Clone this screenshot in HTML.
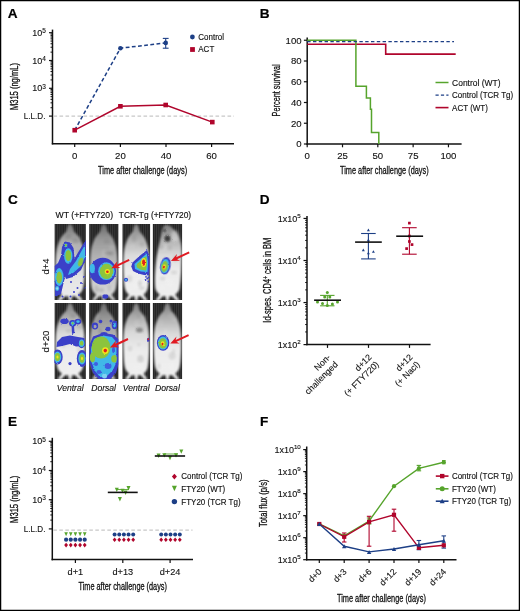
<!DOCTYPE html>
<html><head><meta charset="utf-8"><style>
html,body{margin:0;padding:0;background:#fff;}
body{width:520px;height:611px;overflow:hidden;}
svg{display:block;will-change:transform;}
text{font-family:"Liberation Sans",sans-serif;}
</style></head><body>
<svg width="520" height="611" viewBox="0 0 520 611" font-family="Liberation Sans, sans-serif">
<rect width="520" height="611" fill="#fff"/>
<text x="7.70" y="17.70" font-size="13.6" text-anchor="start" font-weight="bold" font-style="normal" fill="#000" stroke="#000" stroke-width="0.2" >A</text>
<line x1="52.50" y1="29.60" x2="52.50" y2="144.40" stroke="#111" stroke-width="1.5" />
<line x1="51.80" y1="143.70" x2="234.00" y2="143.70" stroke="#111" stroke-width="1.5" />
<line x1="49.00" y1="32.70" x2="52.50" y2="32.70" stroke="#111" stroke-width="1.2" />
<line x1="49.00" y1="60.50" x2="52.50" y2="60.50" stroke="#111" stroke-width="1.2" />
<line x1="49.00" y1="88.30" x2="52.50" y2="88.30" stroke="#111" stroke-width="1.2" />
<line x1="49.00" y1="116.10" x2="52.50" y2="116.10" stroke="#111" stroke-width="1.2" />
<line x1="50.50" y1="107.73" x2="52.50" y2="107.73" stroke="#111" stroke-width="1.0" />
<line x1="50.50" y1="102.84" x2="52.50" y2="102.84" stroke="#111" stroke-width="1.0" />
<line x1="50.50" y1="99.36" x2="52.50" y2="99.36" stroke="#111" stroke-width="1.0" />
<line x1="50.50" y1="96.67" x2="52.50" y2="96.67" stroke="#111" stroke-width="1.0" />
<line x1="50.50" y1="94.47" x2="52.50" y2="94.47" stroke="#111" stroke-width="1.0" />
<line x1="50.50" y1="92.61" x2="52.50" y2="92.61" stroke="#111" stroke-width="1.0" />
<line x1="50.50" y1="90.99" x2="52.50" y2="90.99" stroke="#111" stroke-width="1.0" />
<line x1="50.50" y1="89.57" x2="52.50" y2="89.57" stroke="#111" stroke-width="1.0" />
<line x1="50.50" y1="79.93" x2="52.50" y2="79.93" stroke="#111" stroke-width="1.0" />
<line x1="50.50" y1="75.04" x2="52.50" y2="75.04" stroke="#111" stroke-width="1.0" />
<line x1="50.50" y1="71.56" x2="52.50" y2="71.56" stroke="#111" stroke-width="1.0" />
<line x1="50.50" y1="68.87" x2="52.50" y2="68.87" stroke="#111" stroke-width="1.0" />
<line x1="50.50" y1="66.67" x2="52.50" y2="66.67" stroke="#111" stroke-width="1.0" />
<line x1="50.50" y1="64.81" x2="52.50" y2="64.81" stroke="#111" stroke-width="1.0" />
<line x1="50.50" y1="63.19" x2="52.50" y2="63.19" stroke="#111" stroke-width="1.0" />
<line x1="50.50" y1="61.77" x2="52.50" y2="61.77" stroke="#111" stroke-width="1.0" />
<line x1="50.50" y1="52.13" x2="52.50" y2="52.13" stroke="#111" stroke-width="1.0" />
<line x1="50.50" y1="47.24" x2="52.50" y2="47.24" stroke="#111" stroke-width="1.0" />
<line x1="50.50" y1="43.76" x2="52.50" y2="43.76" stroke="#111" stroke-width="1.0" />
<line x1="50.50" y1="41.07" x2="52.50" y2="41.07" stroke="#111" stroke-width="1.0" />
<line x1="50.50" y1="38.87" x2="52.50" y2="38.87" stroke="#111" stroke-width="1.0" />
<line x1="50.50" y1="37.01" x2="52.50" y2="37.01" stroke="#111" stroke-width="1.0" />
<line x1="50.50" y1="35.39" x2="52.50" y2="35.39" stroke="#111" stroke-width="1.0" />
<line x1="50.50" y1="33.97" x2="52.50" y2="33.97" stroke="#111" stroke-width="1.0" />
<text transform="translate(45.80,35.70) scale(1.0,1)" font-size="9.0" text-anchor="end" fill="#111" stroke="#111" stroke-width="0.12">10<tspan font-size="6.5" dy="-2.6">5</tspan></text>
<text transform="translate(45.80,63.50) scale(1.0,1)" font-size="9.0" text-anchor="end" fill="#111" stroke="#111" stroke-width="0.12">10<tspan font-size="6.5" dy="-2.6">4</tspan></text>
<text transform="translate(45.80,91.30) scale(1.0,1)" font-size="9.0" text-anchor="end" fill="#111" stroke="#111" stroke-width="0.12">10<tspan font-size="6.5" dy="-2.6">3</tspan></text>
<text transform="translate(45.40,119.10) scale(0.9,1)" font-size="9.0" text-anchor="end" font-weight="normal" font-style="normal" fill="#111" stroke="#111" stroke-width="0.12" >L.L.D.</text>
<line x1="53.50" y1="116.10" x2="234.00" y2="116.10" stroke="#c8c8c8" stroke-width="1.2" stroke-dasharray="3.6 2.4"/>
<line x1="74.70" y1="143.70" x2="74.70" y2="147.00" stroke="#111" stroke-width="1.2" />
<text x="74.70" y="158.90" font-size="9.6" text-anchor="middle" font-weight="normal" font-style="normal" fill="#111" stroke="#111" stroke-width="0.12" >0</text>
<line x1="120.40" y1="143.70" x2="120.40" y2="147.00" stroke="#111" stroke-width="1.2" />
<text x="120.40" y="158.90" font-size="9.6" text-anchor="middle" font-weight="normal" font-style="normal" fill="#111" stroke="#111" stroke-width="0.12" >20</text>
<line x1="166.00" y1="143.70" x2="166.00" y2="147.00" stroke="#111" stroke-width="1.2" />
<text x="166.00" y="158.90" font-size="9.6" text-anchor="middle" font-weight="normal" font-style="normal" fill="#111" stroke="#111" stroke-width="0.12" >40</text>
<line x1="211.60" y1="143.70" x2="211.60" y2="147.00" stroke="#111" stroke-width="1.2" />
<text x="211.60" y="158.90" font-size="9.6" text-anchor="middle" font-weight="normal" font-style="normal" fill="#111" stroke="#111" stroke-width="0.12" >60</text>
<text x="142.60" y="173.50" font-size="10.5" text-anchor="middle" textLength="89" lengthAdjust="spacingAndGlyphs" fill="#111" stroke="#111" stroke-width="0.3" >Time after challenge (days)</text>
<text x="0.00" y="0.00" font-size="10.5" text-anchor="middle" textLength="47" lengthAdjust="spacingAndGlyphs" fill="#111" stroke="#111" stroke-width="0.3" transform="translate(17.6,86.6) rotate(-90)">M315 (ng/mL)</text>
<polyline points="74.7,130.2 120.4,48.2 165.7,42.9" fill="none" stroke="#1d3f86" stroke-width="1.5" stroke-dasharray="3.8 2.4"/>
<line x1="165.70" y1="38.40" x2="165.70" y2="48.20" stroke="#1d3f86" stroke-width="1.1" />
<line x1="162.80" y1="38.40" x2="168.60" y2="38.40" stroke="#1d3f86" stroke-width="1.1" />
<line x1="162.80" y1="48.20" x2="168.60" y2="48.20" stroke="#1d3f86" stroke-width="1.1" />
<circle cx="120.40" cy="48.20" r="2.3" fill="#1d3f86"/>
<circle cx="165.70" cy="42.90" r="2.3" fill="#1d3f86"/>
<polyline points="74.7,130.2 120.4,106.3 165.7,105.0 212.3,122.1" fill="none" stroke="#b0052c" stroke-width="1.5"/>
<rect x="72.40" y="127.90" width="4.6" height="4.6" fill="#b0052c"/>
<rect x="118.10" y="104.00" width="4.6" height="4.6" fill="#b0052c"/>
<rect x="163.40" y="102.70" width="4.6" height="4.6" fill="#b0052c"/>
<rect x="210.00" y="119.80" width="4.6" height="4.6" fill="#b0052c"/>
<circle cx="192.40" cy="37.00" r="2.4" fill="#1d3f86"/>
<text transform="translate(198.30,40.00) scale(0.86,1)" font-size="9.3" text-anchor="start" font-weight="normal" font-style="normal" fill="#111" stroke="#111" stroke-width="0.15" >Control</text>
<rect x="190.10" y="47.10" width="4.8" height="4.8" fill="#b0052c"/>
<text transform="translate(198.30,51.80) scale(0.86,1)" font-size="9.3" text-anchor="start" font-weight="normal" font-style="normal" fill="#111" stroke="#111" stroke-width="0.15" >ACT</text>
<text x="259.80" y="17.70" font-size="13.6" text-anchor="start" font-weight="bold" font-style="normal" fill="#000" stroke="#000" stroke-width="0.2" >B</text>
<line x1="307.20" y1="37.50" x2="307.20" y2="144.70" stroke="#111" stroke-width="1.5" />
<line x1="306.50" y1="144.00" x2="461.60" y2="144.00" stroke="#111" stroke-width="1.5" />
<line x1="303.90" y1="144.00" x2="307.20" y2="144.00" stroke="#111" stroke-width="1.2" />
<text x="301.60" y="147.40" font-size="9.6" text-anchor="end" font-weight="normal" font-style="normal" fill="#111" stroke="#111" stroke-width="0.12" >0</text>
<line x1="303.90" y1="123.25" x2="307.20" y2="123.25" stroke="#111" stroke-width="1.2" />
<text x="301.60" y="126.65" font-size="9.6" text-anchor="end" font-weight="normal" font-style="normal" fill="#111" stroke="#111" stroke-width="0.12" >20</text>
<line x1="303.90" y1="102.50" x2="307.20" y2="102.50" stroke="#111" stroke-width="1.2" />
<text x="301.60" y="105.90" font-size="9.6" text-anchor="end" font-weight="normal" font-style="normal" fill="#111" stroke="#111" stroke-width="0.12" >40</text>
<line x1="303.90" y1="81.75" x2="307.20" y2="81.75" stroke="#111" stroke-width="1.2" />
<text x="301.60" y="85.15" font-size="9.6" text-anchor="end" font-weight="normal" font-style="normal" fill="#111" stroke="#111" stroke-width="0.12" >60</text>
<line x1="303.90" y1="61.00" x2="307.20" y2="61.00" stroke="#111" stroke-width="1.2" />
<text x="301.60" y="64.40" font-size="9.6" text-anchor="end" font-weight="normal" font-style="normal" fill="#111" stroke="#111" stroke-width="0.12" >80</text>
<line x1="303.90" y1="40.25" x2="307.20" y2="40.25" stroke="#111" stroke-width="1.2" />
<text x="301.60" y="43.65" font-size="9.6" text-anchor="end" font-weight="normal" font-style="normal" fill="#111" stroke="#111" stroke-width="0.12" >100</text>
<line x1="307.20" y1="144.00" x2="307.20" y2="147.30" stroke="#111" stroke-width="1.2" />
<text x="307.20" y="158.90" font-size="9.6" text-anchor="middle" font-weight="normal" font-style="normal" fill="#111" stroke="#111" stroke-width="0.12" >0</text>
<line x1="342.51" y1="144.00" x2="342.51" y2="147.30" stroke="#111" stroke-width="1.2" />
<text x="342.51" y="158.90" font-size="9.6" text-anchor="middle" font-weight="normal" font-style="normal" fill="#111" stroke="#111" stroke-width="0.12" >25</text>
<line x1="377.82" y1="144.00" x2="377.82" y2="147.30" stroke="#111" stroke-width="1.2" />
<text x="377.82" y="158.90" font-size="9.6" text-anchor="middle" font-weight="normal" font-style="normal" fill="#111" stroke="#111" stroke-width="0.12" >50</text>
<line x1="413.14" y1="144.00" x2="413.14" y2="147.30" stroke="#111" stroke-width="1.2" />
<text x="413.14" y="158.90" font-size="9.6" text-anchor="middle" font-weight="normal" font-style="normal" fill="#111" stroke="#111" stroke-width="0.12" >75</text>
<line x1="448.45" y1="144.00" x2="448.45" y2="147.30" stroke="#111" stroke-width="1.2" />
<text x="448.45" y="158.90" font-size="9.6" text-anchor="middle" font-weight="normal" font-style="normal" fill="#111" stroke="#111" stroke-width="0.12" >100</text>
<text x="384.30" y="173.50" font-size="10.5" text-anchor="middle" textLength="88.6" lengthAdjust="spacingAndGlyphs" fill="#111" stroke="#111" stroke-width="0.3" >Time after challenge (days)</text>
<text x="0.00" y="0.00" font-size="10.5" text-anchor="middle" textLength="52" lengthAdjust="spacingAndGlyphs" fill="#111" stroke="#111" stroke-width="0.3" transform="translate(279.6,90.4) rotate(-90)">Percent survival</text>
<path d="M307.2,44.3 H385.7 V54.1 H455.7" fill="none" stroke="#b0052c" stroke-width="1.6"/>
<path d="M307.2,40.3 H355.9 V86.3 H366.4 V97.9 H370.4 V109.3 H371.5 V132.4 H378.8 V144" fill="none" stroke="#56a42c" stroke-width="1.5"/>
<path d="M307.2,41.6 H454" fill="none" stroke="#1d3f86" stroke-width="1.4" stroke-dasharray="3.4 2.4"/>
<line x1="435.50" y1="82.50" x2="448.50" y2="82.50" stroke="#56a42c" stroke-width="1.5" />
<line x1="435.50" y1="95.10" x2="448.50" y2="95.10" stroke="#1d3f86" stroke-width="1.4" stroke-dasharray="3.2 2.2"/>
<line x1="435.50" y1="107.60" x2="448.50" y2="107.60" stroke="#b0052c" stroke-width="1.6" />
<text transform="translate(452.10,85.60) scale(0.9116,1)" font-size="9.3" text-anchor="start" font-weight="normal" font-style="normal" fill="#111" stroke="#111" stroke-width="0.15" >Control (WT)</text>
<text transform="translate(452.10,98.20) scale(0.86,1)" font-size="9.3" text-anchor="start" font-weight="normal" font-style="normal" fill="#111" stroke="#111" stroke-width="0.15" >Control (TCR Tg)</text>
<text transform="translate(452.10,110.70) scale(0.86,1)" font-size="9.3" text-anchor="start" font-weight="normal" font-style="normal" fill="#111" stroke="#111" stroke-width="0.15" >ACT (WT)</text>
<text x="7.90" y="203.80" font-size="13.6" text-anchor="start" font-weight="bold" font-style="normal" fill="#000" stroke="#000" stroke-width="0.2" >C</text>
<text x="55.50" y="218.30" font-size="8.7" text-anchor="start" font-weight="normal" font-style="normal" fill="#111" stroke="#111" stroke-width="0.15" >WT (+FTY720)</text>
<text x="118.80" y="218.30" font-size="8.4" text-anchor="start" font-weight="normal" font-style="normal" fill="#111" stroke="#111" stroke-width="0.15" >TCR-Tg (+FTY720)</text>
<text font-size="8.7" fill="#111" stroke="#111" stroke-width="0.12" transform="translate(49.0,266.4) rotate(-90)" text-anchor="middle" textLength="16.0" lengthAdjust="spacingAndGlyphs">d+4</text>
<text font-size="8.7" fill="#111" stroke="#111" stroke-width="0.12" transform="translate(49.0,341.5) rotate(-90)" text-anchor="middle" textLength="21.8" lengthAdjust="spacingAndGlyphs">d+20</text>
<text x="70.20" y="390.60" font-size="8.6" text-anchor="middle" font-weight="normal" font-style="italic" fill="#111" stroke="#111" stroke-width="0.12" >Ventral</text>
<text x="103.60" y="390.60" font-size="8.6" text-anchor="middle" font-weight="normal" font-style="italic" fill="#111" stroke="#111" stroke-width="0.12" >Dorsal</text>
<text x="136.30" y="390.60" font-size="8.6" text-anchor="middle" font-weight="normal" font-style="italic" fill="#111" stroke="#111" stroke-width="0.12" >Ventral</text>
<text x="167.40" y="390.60" font-size="8.6" text-anchor="middle" font-weight="normal" font-style="italic" fill="#111" stroke="#111" stroke-width="0.12" >Dorsal</text>
<defs>
<filter id="bl1" x="-30%" y="-30%" width="160%" height="160%"><feGaussianBlur stdDeviation="0.9"/></filter>
<filter id="bl2" x="-30%" y="-30%" width="160%" height="160%"><feGaussianBlur stdDeviation="0.45"/></filter>
<filter id="rough" x="-10%" y="-10%" width="120%" height="120%"><feTurbulence type="fractalNoise" baseFrequency="0.9" numOctaves="2" seed="5" result="n"/><feDisplacementMap in="SourceGraphic" in2="n" scale="2.0" xChannelSelector="R" yChannelSelector="G"/></filter>
<filter id="bl3" x="-30%" y="-30%" width="160%" height="160%"><feGaussianBlur stdDeviation="1.6"/></filter>
<pattern id="stripes" width="2.2" height="10" patternUnits="userSpaceOnUse"><rect width="2.2" height="10" fill="#232323"/><rect x="0" width="0.9" height="10" fill="#3a3a3a"/></pattern>
<linearGradient id="bodyV" x1="0" y1="0" x2="0" y2="1"><stop offset="0" stop-color="#747474"/><stop offset="0.2" stop-color="#a4a4a4"/><stop offset="0.45" stop-color="#cdcdcd"/><stop offset="0.7" stop-color="#e4e4e4"/><stop offset="1" stop-color="#ececec"/></linearGradient>
<linearGradient id="bodyD" x1="0" y1="0" x2="0" y2="1"><stop offset="0" stop-color="#6a6a6a"/><stop offset="0.2" stop-color="#989898"/><stop offset="0.45" stop-color="#b4b4b4"/><stop offset="0.7" stop-color="#c8c8c8"/><stop offset="1" stop-color="#d8d8d8"/></linearGradient>
<linearGradient id="bodyW" x1="0" y1="0" x2="0" y2="1"><stop offset="0" stop-color="#7c7c7c"/><stop offset="0.2" stop-color="#b0b0b0"/><stop offset="0.4" stop-color="#dadada"/><stop offset="0.6" stop-color="#ebebeb"/><stop offset="1" stop-color="#f0f0f0"/></linearGradient>
<clipPath id="clip1"><rect x="54.4" y="224.0" width="31.50" height="76.00"/></clipPath>
<clipPath id="clip2"><rect x="89.1" y="224.0" width="29.50" height="76.00"/></clipPath>
<clipPath id="clip3"><rect x="122.3" y="224.0" width="28.00" height="76.00"/></clipPath>
<clipPath id="clip4"><rect x="152.6" y="224.0" width="29.70" height="76.00"/></clipPath>
<clipPath id="clip5"><rect x="54.4" y="303.0" width="31.50" height="76.00"/></clipPath>
<clipPath id="clip6"><rect x="89.1" y="303.0" width="29.50" height="76.00"/></clipPath>
<clipPath id="clip7"><rect x="122.3" y="303.0" width="28.00" height="76.00"/></clipPath>
<clipPath id="clip8"><rect x="152.6" y="303.0" width="29.70" height="76.00"/></clipPath>
</defs>
<g clip-path="url(#clip1)">
<rect x="54.4" y="224.0" width="31.50" height="76.00" fill="url(#stripes)"/>
<path d="M70.15,224.00 C72.04,224.00 73.30,227.80 73.93,231.60 C76.45,233.88 79.60,236.92 81.49,242.24 C84.33,248.32 84.96,258.20 84.64,269.60 C84.33,278.72 84.01,284.80 82.75,289.36 C81.49,292.40 79.60,293.92 78.34,294.68 L80.86,297.72 L82.75,300.76 L79.60,300.76 L75.19,296.20 L72.04,296.20 L71.41,300.76 L68.89,300.76 L68.26,296.20 L65.11,296.20 L60.70,300.76 L57.55,300.76 L59.44,297.72 L61.96,294.68 C60.70,293.92 58.81,292.40 57.55,289.36 C56.29,284.80 55.98,278.72 55.66,269.60 C55.34,258.20 55.98,248.32 58.81,242.24 C60.70,236.92 63.85,233.88 66.37,231.60 C67.00,227.80 68.26,224.00 70.15,224.00 Z" fill="url(#bodyV)" filter="url(#bl1)"/>
<ellipse cx="71.50" cy="259.85" rx="3.13" ry="3.56" fill="#fff" opacity="0.05" filter="url(#bl1)"/>
<ellipse cx="73.05" cy="244.53" rx="2.00" ry="3.88" fill="#fff" opacity="0.06" filter="url(#bl1)"/>
<ellipse cx="79.53" cy="237.94" rx="2.26" ry="2.21" fill="#fff" opacity="0.08" filter="url(#bl1)"/>
<ellipse cx="73.46" cy="261.44" rx="1.77" ry="3.42" fill="#fff" opacity="0.08" filter="url(#bl1)"/>
<ellipse cx="79.27" cy="290.66" rx="1.51" ry="1.83" fill="#fff" opacity="0.04" filter="url(#bl1)"/>
<ellipse cx="78.48" cy="252.66" rx="2.13" ry="2.87" fill="#000" opacity="0.09" filter="url(#bl1)"/>
<ellipse cx="68.94" cy="239.10" rx="1.81" ry="2.06" fill="#fff" opacity="0.09" filter="url(#bl1)"/>
<ellipse cx="68.50" cy="237.50" rx="2.82" ry="2.83" fill="#000" opacity="0.09" filter="url(#bl1)"/>
<ellipse cx="76.86" cy="243.93" rx="2.70" ry="1.78" fill="#fff" opacity="0.06" filter="url(#bl1)"/>
<ellipse cx="75.36" cy="240.91" rx="3.40" ry="2.58" fill="#000" opacity="0.09" filter="url(#bl1)"/>
<ellipse cx="68.53" cy="249.39" rx="1.86" ry="1.80" fill="#000" opacity="0.08" filter="url(#bl1)"/>
<ellipse cx="69.31" cy="244.80" rx="3.06" ry="2.70" fill="#fff" opacity="0.09" filter="url(#bl1)"/>
<ellipse cx="67.27" cy="260.18" rx="2.16" ry="2.30" fill="#000" opacity="0.08" filter="url(#bl1)"/>
<ellipse cx="62.21" cy="260.94" rx="3.24" ry="3.18" fill="#fff" opacity="0.06" filter="url(#bl1)"/>
<g filter="url(#rough)">
<polygon points="62.00,247.00 65.00,241.50 70.00,242.50 73.50,248.00 74.50,258.00 72.00,267.00 67.00,272.00 64.00,281.00 61.00,294.00 55.00,297.00 54.50,266.00 58.00,263.00 61.00,256.00" fill="#3a3fc8" filter="url(#bl2)"/>
<polygon points="86.50,239.00 86.50,258.00 81.00,270.00 73.00,277.00 66.00,279.00 64.00,273.00 70.00,265.00 76.00,256.00 82.00,246.00" fill="#3a3fc8" filter="url(#bl2)"/>
<ellipse cx="68.30" cy="256.00" rx="4.2" ry="7.8" fill="#3fb8e8" filter="url(#bl2)" opacity="1.0"/>
<ellipse cx="59.20" cy="277.00" rx="4.3" ry="9.0" fill="#3fb8e8" filter="url(#bl2)" opacity="1.0"/>
<polygon points="85.00,245.00 85.00,257.00 80.00,267.00 73.00,273.00 68.00,275.00 70.00,269.00 76.00,261.00 82.00,250.00" fill="#3fb8e8" filter="url(#bl2)"/>
<ellipse cx="68.30" cy="255.50" rx="2.9" ry="5.5" fill="#8cc43c" filter="url(#bl2)" opacity="1.0"/>
<ellipse cx="59.20" cy="277.50" rx="2.8" ry="6.0" fill="#8cc43c" filter="url(#bl2)" opacity="1.0"/>
<ellipse cx="80.60" cy="262.00" rx="2.2" ry="4.6" fill="#8cc43c" filter="url(#bl2)" transform="rotate(20 80.60 262.00)" opacity="1.0"/>
<ellipse cx="65.80" cy="245.30" rx="2.5" ry="2.6" fill="#3a3fc8" filter="url(#bl2)" opacity="1.0"/>
<ellipse cx="65.80" cy="245.30" rx="1.7999999999999998" ry="1.8719999999999999" fill="#3fb8e8" filter="url(#bl2)" opacity="1.0"/>
<ellipse cx="65.80" cy="245.30" rx="1.2" ry="1.248" fill="#8cc43c" filter="url(#bl2)" opacity="1.0"/>
<ellipse cx="57.20" cy="288.50" rx="2.0" ry="2.4" fill="#3fb8e8" filter="url(#bl2)" opacity="1.0"/>
<ellipse cx="57.20" cy="288.50" rx="1.0" ry="1.2" fill="#9ad6f0" filter="url(#bl2)" opacity="1.0"/>
<ellipse cx="74.00" cy="292.00" rx="1.0" ry="1.0" fill="#3a3fc8" filter="url(#bl2)" opacity="1.0"/>
<ellipse cx="70.50" cy="296.50" rx="1.0" ry="1.0" fill="#3a3fc8" filter="url(#bl2)" opacity="1.0"/>
<ellipse cx="81.00" cy="283.00" rx="1.0" ry="1.0" fill="#3a3fc8" filter="url(#bl2)" opacity="1.0"/>
<ellipse cx="77.50" cy="288.00" rx="1.0" ry="1.0" fill="#3a3fc8" filter="url(#bl2)" opacity="1.0"/>
<ellipse cx="84.00" cy="277.00" rx="1.0" ry="1.0" fill="#3a3fc8" filter="url(#bl2)" opacity="1.0"/>
<ellipse cx="62.50" cy="296.50" rx="1.0" ry="1.0" fill="#3a3fc8" filter="url(#bl2)" opacity="1.0"/>
<ellipse cx="71.00" cy="282.00" rx="1.0" ry="1.0" fill="#3a3fc8" filter="url(#bl2)" opacity="1.0"/>
<ellipse cx="79.00" cy="295.00" rx="1.0" ry="1.0" fill="#3a3fc8" filter="url(#bl2)" opacity="1.0"/>
<ellipse cx="84.50" cy="288.00" rx="1.0" ry="1.0" fill="#3a3fc8" filter="url(#bl2)" opacity="1.0"/>
</g>
</g>
<g clip-path="url(#clip2)">
<rect x="89.1" y="224.0" width="29.50" height="76.00" fill="url(#stripes)"/>
<path d="M103.85,224.00 C105.62,224.00 106.80,227.80 107.39,231.60 C109.75,233.88 112.70,236.92 114.47,242.24 C117.12,248.32 117.71,258.20 117.42,269.60 C117.12,278.72 116.83,284.80 115.65,289.36 C114.47,292.40 112.70,293.92 111.52,294.68 L113.88,297.72 L115.65,300.76 L112.70,300.76 L108.57,296.20 L105.62,296.20 L105.03,300.76 L102.67,300.76 L102.08,296.20 L99.13,296.20 L95.00,300.76 L92.05,300.76 L93.82,297.72 L96.18,294.68 C95.00,293.92 93.23,292.40 92.05,289.36 C90.87,284.80 90.57,278.72 90.28,269.60 C89.98,258.20 90.57,248.32 93.23,242.24 C95.00,236.92 97.95,233.88 100.31,231.60 C100.90,227.80 102.08,224.00 103.85,224.00 Z" fill="url(#bodyD)" filter="url(#bl1)"/>
<ellipse cx="104.24" cy="281.38" rx="3.03" ry="3.26" fill="#fff" opacity="0.06" filter="url(#bl1)"/>
<ellipse cx="106.71" cy="241.68" rx="2.99" ry="2.13" fill="#000" opacity="0.06" filter="url(#bl1)"/>
<ellipse cx="103.88" cy="253.49" rx="2.30" ry="4.00" fill="#fff" opacity="0.10" filter="url(#bl1)"/>
<ellipse cx="96.10" cy="281.72" rx="2.91" ry="2.90" fill="#fff" opacity="0.05" filter="url(#bl1)"/>
<ellipse cx="111.91" cy="247.37" rx="2.78" ry="2.27" fill="#fff" opacity="0.09" filter="url(#bl1)"/>
<ellipse cx="96.45" cy="288.97" rx="1.78" ry="3.53" fill="#000" opacity="0.10" filter="url(#bl1)"/>
<ellipse cx="109.40" cy="287.84" rx="1.60" ry="3.38" fill="#000" opacity="0.06" filter="url(#bl1)"/>
<ellipse cx="101.28" cy="290.09" rx="3.24" ry="2.10" fill="#000" opacity="0.09" filter="url(#bl1)"/>
<ellipse cx="104.86" cy="289.97" rx="2.03" ry="3.47" fill="#fff" opacity="0.06" filter="url(#bl1)"/>
<ellipse cx="98.41" cy="269.82" rx="1.76" ry="3.15" fill="#fff" opacity="0.07" filter="url(#bl1)"/>
<ellipse cx="111.22" cy="253.58" rx="2.66" ry="2.18" fill="#000" opacity="0.09" filter="url(#bl1)"/>
<ellipse cx="95.17" cy="278.34" rx="2.05" ry="3.08" fill="#000" opacity="0.07" filter="url(#bl1)"/>
<ellipse cx="107.90" cy="253.06" rx="3.32" ry="1.55" fill="#000" opacity="0.10" filter="url(#bl1)"/>
<ellipse cx="104.99" cy="274.50" rx="3.42" ry="2.98" fill="#000" opacity="0.08" filter="url(#bl1)"/>
<g filter="url(#rough)">
<ellipse cx="102.80" cy="271.20" rx="13.2" ry="13.4" fill="#3a3fc8" filter="url(#bl2)" opacity="1.0"/>
<ellipse cx="92.30" cy="268.50" rx="2.6" ry="4.8" fill="#3fb8e8" filter="url(#bl2)" opacity="1.0"/>
<ellipse cx="106.40" cy="271.20" rx="8.2" ry="8.9" fill="#3fb8e8" filter="url(#bl2)" opacity="1.0"/>
<ellipse cx="106.50" cy="271.30" rx="6.8" ry="7.6" fill="#8cc43c" filter="url(#bl2)" opacity="1.0"/>
<ellipse cx="107.40" cy="271.60" rx="2.6" ry="2.6" fill="#f2e41c" filter="url(#bl2)" opacity="1.0"/>
<ellipse cx="107.40" cy="271.70" rx="1.3" ry="1.3" fill="#e0201c" filter="url(#bl2)" opacity="1.0"/>
<ellipse cx="105.30" cy="296.50" rx="3.0" ry="2.2" fill="#3a3fc8" filter="url(#bl2)" opacity="1.0"/>
</g>
</g>
<g clip-path="url(#clip3)">
<rect x="122.3" y="224.0" width="28.00" height="76.00" fill="url(#stripes)"/>
<path d="M136.30,224.00 C137.98,224.00 139.10,227.80 139.66,231.60 C141.90,233.88 144.70,236.92 146.38,242.24 C148.90,248.32 149.46,258.20 149.18,269.60 C148.90,278.72 148.62,284.80 147.50,289.36 C146.38,292.40 144.70,293.92 143.58,294.68 L145.82,297.72 L147.50,300.76 L144.70,300.76 L140.78,296.20 L137.98,296.20 L137.42,300.76 L135.18,300.76 L134.62,296.20 L131.82,296.20 L127.90,300.76 L125.10,300.76 L126.78,297.72 L129.02,294.68 C127.90,293.92 126.22,292.40 125.10,289.36 C123.98,284.80 123.70,278.72 123.42,269.60 C123.14,258.20 123.70,248.32 126.22,242.24 C127.90,236.92 130.70,233.88 132.94,231.60 C133.50,227.80 134.62,224.00 136.30,224.00 Z" fill="url(#bodyW)" filter="url(#bl1)"/>
<ellipse cx="139.87" cy="283.27" rx="1.89" ry="3.18" fill="#000" opacity="0.10" filter="url(#bl1)"/>
<ellipse cx="129.44" cy="278.59" rx="2.95" ry="3.41" fill="#000" opacity="0.08" filter="url(#bl1)"/>
<ellipse cx="135.32" cy="284.75" rx="2.53" ry="3.90" fill="#fff" opacity="0.05" filter="url(#bl1)"/>
<ellipse cx="140.32" cy="260.72" rx="1.67" ry="3.40" fill="#000" opacity="0.10" filter="url(#bl1)"/>
<ellipse cx="142.07" cy="244.39" rx="2.58" ry="2.42" fill="#000" opacity="0.06" filter="url(#bl1)"/>
<ellipse cx="142.91" cy="288.10" rx="1.64" ry="1.74" fill="#000" opacity="0.09" filter="url(#bl1)"/>
<ellipse cx="139.07" cy="280.95" rx="3.22" ry="2.17" fill="#fff" opacity="0.10" filter="url(#bl1)"/>
<ellipse cx="140.38" cy="288.11" rx="1.81" ry="1.86" fill="#000" opacity="0.07" filter="url(#bl1)"/>
<ellipse cx="135.96" cy="273.61" rx="2.51" ry="3.99" fill="#fff" opacity="0.05" filter="url(#bl1)"/>
<ellipse cx="140.75" cy="265.73" rx="2.02" ry="3.11" fill="#000" opacity="0.08" filter="url(#bl1)"/>
<ellipse cx="138.80" cy="257.70" rx="2.44" ry="3.58" fill="#fff" opacity="0.06" filter="url(#bl1)"/>
<ellipse cx="132.11" cy="245.97" rx="3.25" ry="2.12" fill="#fff" opacity="0.07" filter="url(#bl1)"/>
<ellipse cx="134.14" cy="238.69" rx="2.40" ry="3.41" fill="#000" opacity="0.06" filter="url(#bl1)"/>
<ellipse cx="128.53" cy="291.79" rx="2.58" ry="2.94" fill="#fff" opacity="0.09" filter="url(#bl1)"/>
<g filter="url(#rough)">
<polygon points="132.50,262.50 139.50,256.00 147.00,250.00 149.50,256.00 149.50,268.00 149.00,275.50 144.00,275.00 138.00,273.50 133.00,271.00 131.30,266.50" fill="#3a3fc8" filter="url(#bl2)"/>
<polygon points="134.50,264.00 141.00,258.50 146.80,253.50 148.00,262.00 147.50,272.00 141.00,271.50 135.00,269.00" fill="#3fb8e8" filter="url(#bl2)"/>
<polygon points="136.30,264.50 142.00,260.00 146.50,256.00 147.00,265.00 146.00,270.50 141.00,269.80 137.00,267.50" fill="#8cc43c" filter="url(#bl2)"/>
<ellipse cx="143.60" cy="262.60" rx="2.5" ry="4.6" fill="#f2e41c" filter="url(#bl2)" opacity="1.0"/>
<ellipse cx="143.60" cy="262.60" rx="1.5" ry="3.2" fill="#e0201c" filter="url(#bl2)" opacity="1.0"/>
<ellipse cx="147.20" cy="278.50" rx="0.9" ry="0.9" fill="#3a3fc8" filter="url(#bl2)" opacity="1.0"/>
<ellipse cx="148.30" cy="281.50" rx="0.9" ry="0.9" fill="#3a3fc8" filter="url(#bl2)" opacity="1.0"/>
<ellipse cx="145.50" cy="280.00" rx="0.9" ry="0.9" fill="#3a3fc8" filter="url(#bl2)" opacity="1.0"/>
<ellipse cx="146.00" cy="276.80" rx="0.9" ry="0.9" fill="#3a3fc8" filter="url(#bl2)" opacity="1.0"/>
<ellipse cx="148.60" cy="277.50" rx="0.9" ry="0.9" fill="#3a3fc8" filter="url(#bl2)" opacity="1.0"/>
<ellipse cx="126.00" cy="279.80" rx="2.1" ry="2.0" fill="#3a3fc8" filter="url(#bl2)" opacity="1.0"/>
<ellipse cx="126.00" cy="279.80" rx="1.1550000000000002" ry="1.1" fill="#3fb8e8" filter="url(#bl2)" opacity="1.0"/>
</g>
</g>
<g clip-path="url(#clip4)">
<rect x="152.6" y="224.0" width="29.70" height="76.00" fill="url(#stripes)"/>
<path d="M164.48,225.52 C167.45,223.24 171.01,226.28 173.98,230.08 C178.14,233.88 182.00,240.72 181.71,252.88 C181.41,265.80 181.11,278.72 179.33,289.36 C178.14,292.40 176.36,293.92 175.17,294.68 L177.55,297.72 L179.33,300.76 L176.36,300.76 L172.20,296.20 L169.23,296.20 L168.64,300.76 L166.26,300.76 L165.67,296.20 L162.70,296.20 L158.54,300.76 L155.57,300.76 L157.35,297.72 L159.73,294.68 C158.54,293.92 156.76,292.40 155.57,289.36 C154.38,283.28 154.98,271.12 156.16,260.48 C157.35,251.36 159.13,243.76 160.92,236.16 C162.10,230.08 162.99,226.28 164.48,225.52 Z" fill="url(#bodyW)" filter="url(#bl1)"/>
<ellipse cx="158.76" cy="241.81" rx="1.78" ry="1.78" fill="#000" opacity="0.08" filter="url(#bl1)"/>
<ellipse cx="162.67" cy="278.58" rx="2.82" ry="1.84" fill="#000" opacity="0.08" filter="url(#bl1)"/>
<ellipse cx="168.09" cy="260.92" rx="1.69" ry="1.55" fill="#000" opacity="0.10" filter="url(#bl1)"/>
<ellipse cx="175.29" cy="258.37" rx="2.23" ry="3.89" fill="#000" opacity="0.06" filter="url(#bl1)"/>
<ellipse cx="162.29" cy="247.76" rx="3.41" ry="3.60" fill="#fff" opacity="0.07" filter="url(#bl1)"/>
<ellipse cx="164.88" cy="247.02" rx="1.56" ry="3.34" fill="#fff" opacity="0.10" filter="url(#bl1)"/>
<ellipse cx="174.01" cy="272.52" rx="2.96" ry="1.98" fill="#000" opacity="0.09" filter="url(#bl1)"/>
<ellipse cx="169.96" cy="247.89" rx="2.17" ry="2.49" fill="#000" opacity="0.06" filter="url(#bl1)"/>
<ellipse cx="170.07" cy="283.06" rx="3.49" ry="3.47" fill="#fff" opacity="0.10" filter="url(#bl1)"/>
<ellipse cx="164.00" cy="245.45" rx="2.85" ry="1.73" fill="#fff" opacity="0.07" filter="url(#bl1)"/>
<ellipse cx="161.98" cy="287.90" rx="1.69" ry="2.50" fill="#fff" opacity="0.08" filter="url(#bl1)"/>
<ellipse cx="174.76" cy="272.41" rx="2.41" ry="3.50" fill="#fff" opacity="0.05" filter="url(#bl1)"/>
<ellipse cx="166.46" cy="280.37" rx="1.70" ry="3.96" fill="#fff" opacity="0.05" filter="url(#bl1)"/>
<ellipse cx="160.67" cy="246.46" rx="3.21" ry="2.69" fill="#000" opacity="0.08" filter="url(#bl1)"/>
<g filter="url(#rough)">
<ellipse cx="167.50" cy="238.50" rx="3.0" ry="3.2" fill="#3a3a3a" filter="url(#bl1)" opacity="1.0"/>
<ellipse cx="164.50" cy="230.50" rx="1.4" ry="1.6" fill="#3a3a3a" filter="url(#bl1)" opacity="1.0"/>
<ellipse cx="175.00" cy="236.00" rx="4.0" ry="6.0" fill="#fff" filter="url(#bl3)" opacity="0.35"/>
<ellipse cx="165.40" cy="265.80" rx="5.2" ry="8.8" fill="#3a3fc8" filter="url(#bl2)" transform="rotate(10 165.40 265.80)" opacity="1.0"/>
<ellipse cx="165.00" cy="266.15" rx="4.16" ry="7.040000000000001" fill="#3fb8e8" filter="url(#bl2)" transform="rotate(10 165.00 266.15)" opacity="1.0"/>
<ellipse cx="164.60" cy="266.50" rx="3.224" ry="5.456" fill="#8cc43c" filter="url(#bl2)" transform="rotate(10 164.60 266.50)" opacity="1.0"/>
<ellipse cx="164.20" cy="266.85" rx="1.56" ry="2.64" fill="#f2e41c" filter="url(#bl2)" transform="rotate(10 164.20 266.85)" opacity="1.0"/>
<ellipse cx="163.80" cy="267.20" rx="0.8320000000000001" ry="1.4080000000000001" fill="#e0201c" filter="url(#bl2)" transform="rotate(10 163.80 267.20)" opacity="1.0"/>
</g>
</g>
<g clip-path="url(#clip5)">
<rect x="54.4" y="303.0" width="31.50" height="76.00" fill="url(#stripes)"/>
<path d="M70.15,303.00 C72.04,303.00 73.30,306.80 73.93,310.60 C76.45,312.88 79.60,315.92 81.49,321.24 C84.33,327.32 84.96,337.20 84.64,348.60 C84.33,357.72 84.01,363.80 82.75,368.36 C81.49,371.40 79.60,372.92 78.34,373.68 L80.86,376.72 L82.75,379.76 L79.60,379.76 L75.19,375.20 L72.04,375.20 L71.41,379.76 L68.89,379.76 L68.26,375.20 L65.11,375.20 L60.70,379.76 L57.55,379.76 L59.44,376.72 L61.96,373.68 C60.70,372.92 58.81,371.40 57.55,368.36 C56.29,363.80 55.98,357.72 55.66,348.60 C55.34,337.20 55.98,327.32 58.81,321.24 C60.70,315.92 63.85,312.88 66.37,310.60 C67.00,306.80 68.26,303.00 70.15,303.00 Z" fill="url(#bodyW)" filter="url(#bl1)"/>
<ellipse cx="72.79" cy="338.85" rx="2.90" ry="2.44" fill="#fff" opacity="0.04" filter="url(#bl1)"/>
<ellipse cx="72.19" cy="324.10" rx="2.16" ry="3.32" fill="#000" opacity="0.06" filter="url(#bl1)"/>
<ellipse cx="69.64" cy="369.28" rx="2.73" ry="2.82" fill="#fff" opacity="0.05" filter="url(#bl1)"/>
<ellipse cx="63.36" cy="344.43" rx="2.57" ry="3.22" fill="#000" opacity="0.06" filter="url(#bl1)"/>
<ellipse cx="78.83" cy="349.44" rx="2.00" ry="3.37" fill="#000" opacity="0.07" filter="url(#bl1)"/>
<ellipse cx="77.59" cy="319.35" rx="1.87" ry="2.63" fill="#fff" opacity="0.06" filter="url(#bl1)"/>
<ellipse cx="68.61" cy="330.79" rx="2.88" ry="1.91" fill="#000" opacity="0.07" filter="url(#bl1)"/>
<ellipse cx="67.75" cy="328.03" rx="2.98" ry="1.57" fill="#fff" opacity="0.05" filter="url(#bl1)"/>
<ellipse cx="76.87" cy="338.78" rx="3.19" ry="1.58" fill="#fff" opacity="0.09" filter="url(#bl1)"/>
<ellipse cx="74.85" cy="344.35" rx="2.19" ry="3.76" fill="#fff" opacity="0.07" filter="url(#bl1)"/>
<ellipse cx="79.50" cy="326.99" rx="2.82" ry="1.90" fill="#000" opacity="0.07" filter="url(#bl1)"/>
<ellipse cx="71.77" cy="345.35" rx="1.78" ry="2.80" fill="#fff" opacity="0.05" filter="url(#bl1)"/>
<ellipse cx="74.92" cy="347.85" rx="1.57" ry="3.22" fill="#fff" opacity="0.06" filter="url(#bl1)"/>
<ellipse cx="72.93" cy="315.96" rx="2.83" ry="2.02" fill="#000" opacity="0.08" filter="url(#bl1)"/>
<g filter="url(#rough)">
<ellipse cx="64.50" cy="321.30" rx="4.2" ry="2.8" fill="#3a3fc8" filter="url(#bl2)" opacity="1.0"/>
<ellipse cx="72.70" cy="323.30" rx="3.6" ry="3.2" fill="#3a3fc8" filter="url(#bl2)" opacity="1.0"/>
<ellipse cx="72.70" cy="323.30" rx="1.9800000000000002" ry="1.7600000000000002" fill="#3fb8e8" filter="url(#bl2)" opacity="1.0"/>
<ellipse cx="72.70" cy="323.30" rx="1.08" ry="0.96" fill="#8cc43c" filter="url(#bl2)" opacity="1.0"/>
<ellipse cx="78.00" cy="321.60" rx="3.3" ry="2.8" fill="#3a3fc8" filter="url(#bl2)" opacity="1.0"/>
<ellipse cx="78.00" cy="321.60" rx="1.65" ry="1.4" fill="#3fb8e8" filter="url(#bl2)" opacity="1.0"/>
<polygon points="71.50,325.00 74.00,325.00 74.50,333.00 72.00,334.00" fill="#3a3fc8" filter="url(#bl2)"/>
<polygon points="57.00,342.00 62.00,337.00 70.00,335.50 78.00,337.00 84.50,338.00 85.00,346.00 76.00,346.50 70.00,344.00 62.00,346.00 56.50,347.00" fill="#3a3fc8" filter="url(#bl2)"/>
<ellipse cx="81.60" cy="343.20" rx="3.6" ry="5.0" fill="#3a3fc8" filter="url(#bl2)" opacity="1.0"/>
<ellipse cx="81.60" cy="343.20" rx="2.7" ry="3.75" fill="#3fb8e8" filter="url(#bl2)" opacity="1.0"/>
<ellipse cx="81.60" cy="343.20" rx="1.8" ry="2.5" fill="#8cc43c" filter="url(#bl2)" opacity="1.0"/>
<ellipse cx="57.50" cy="357.00" rx="5.2" ry="7.5" fill="#3a3fc8" filter="url(#bl2)" opacity="1.0"/>
<ellipse cx="57.50" cy="357.00" rx="3.7439999999999998" ry="5.3999999999999995" fill="#3fb8e8" filter="url(#bl2)" opacity="1.0"/>
<ellipse cx="57.50" cy="357.00" rx="2.704" ry="3.9000000000000004" fill="#8cc43c" filter="url(#bl2)" opacity="1.0"/>
<ellipse cx="57.50" cy="357.00" rx="1.04" ry="1.5" fill="#f2e41c" filter="url(#bl2)" opacity="1.0"/>
<ellipse cx="82.00" cy="358.50" rx="5.2" ry="8.5" fill="#3a3fc8" filter="url(#bl2)" opacity="1.0"/>
<ellipse cx="82.00" cy="358.50" rx="3.6399999999999997" ry="5.949999999999999" fill="#3fb8e8" filter="url(#bl2)" opacity="1.0"/>
<ellipse cx="82.00" cy="358.50" rx="2.6" ry="4.25" fill="#8cc43c" filter="url(#bl2)" opacity="1.0"/>
<ellipse cx="82.00" cy="358.50" rx="1.04" ry="1.7000000000000002" fill="#f2e41c" filter="url(#bl2)" opacity="1.0"/>
<ellipse cx="70.00" cy="363.60" rx="1.6" ry="1.6" fill="#3a3fc8" filter="url(#bl2)" opacity="1.0"/>
</g>
</g>
<g clip-path="url(#clip6)">
<rect x="89.1" y="303.0" width="29.50" height="76.00" fill="url(#stripes)"/>
<path d="M103.85,303.00 C105.62,303.00 106.80,306.80 107.39,310.60 C109.75,312.88 112.70,315.92 114.47,321.24 C117.12,327.32 117.71,337.20 117.42,348.60 C117.12,357.72 116.83,363.80 115.65,368.36 C114.47,371.40 112.70,372.92 111.52,373.68 L113.88,376.72 L115.65,379.76 L112.70,379.76 L108.57,375.20 L105.62,375.20 L105.03,379.76 L102.67,379.76 L102.08,375.20 L99.13,375.20 L95.00,379.76 L92.05,379.76 L93.82,376.72 L96.18,373.68 C95.00,372.92 93.23,371.40 92.05,368.36 C90.87,363.80 90.57,357.72 90.28,348.60 C89.98,337.20 90.57,327.32 93.23,321.24 C95.00,315.92 97.95,312.88 100.31,310.60 C100.90,306.80 102.08,303.00 103.85,303.00 Z" fill="url(#bodyD)" filter="url(#bl1)"/>
<ellipse cx="99.81" cy="342.22" rx="1.64" ry="1.53" fill="#000" opacity="0.06" filter="url(#bl1)"/>
<ellipse cx="100.02" cy="321.11" rx="1.57" ry="3.06" fill="#000" opacity="0.08" filter="url(#bl1)"/>
<ellipse cx="97.39" cy="359.72" rx="3.20" ry="3.29" fill="#fff" opacity="0.05" filter="url(#bl1)"/>
<ellipse cx="96.33" cy="337.66" rx="1.84" ry="2.13" fill="#fff" opacity="0.10" filter="url(#bl1)"/>
<ellipse cx="108.72" cy="369.27" rx="3.00" ry="2.29" fill="#000" opacity="0.05" filter="url(#bl1)"/>
<ellipse cx="101.85" cy="364.35" rx="3.24" ry="3.33" fill="#fff" opacity="0.08" filter="url(#bl1)"/>
<ellipse cx="109.34" cy="351.07" rx="3.32" ry="3.78" fill="#fff" opacity="0.04" filter="url(#bl1)"/>
<ellipse cx="101.22" cy="350.10" rx="2.75" ry="2.23" fill="#000" opacity="0.07" filter="url(#bl1)"/>
<ellipse cx="102.34" cy="362.02" rx="1.67" ry="2.46" fill="#000" opacity="0.07" filter="url(#bl1)"/>
<ellipse cx="110.62" cy="349.31" rx="2.82" ry="2.80" fill="#000" opacity="0.09" filter="url(#bl1)"/>
<ellipse cx="100.11" cy="331.55" rx="1.60" ry="3.86" fill="#000" opacity="0.08" filter="url(#bl1)"/>
<ellipse cx="96.82" cy="349.97" rx="2.06" ry="2.60" fill="#fff" opacity="0.06" filter="url(#bl1)"/>
<ellipse cx="100.83" cy="369.78" rx="2.83" ry="2.73" fill="#fff" opacity="0.07" filter="url(#bl1)"/>
<ellipse cx="97.63" cy="315.69" rx="1.69" ry="3.03" fill="#fff" opacity="0.09" filter="url(#bl1)"/>
<g filter="url(#rough)">
<ellipse cx="95.00" cy="326.00" rx="3.2" ry="3.4" fill="#3a3fc8" filter="url(#bl2)" opacity="1.0"/>
<ellipse cx="100.50" cy="321.50" rx="1.8" ry="1.8" fill="#3a3fc8" filter="url(#bl2)" opacity="1.0"/>
<ellipse cx="108.00" cy="329.00" rx="2.6" ry="2.2" fill="#3a3fc8" filter="url(#bl2)" opacity="1.0"/>
<ellipse cx="114.50" cy="325.00" rx="2.8" ry="4.2" fill="#3a3fc8" filter="url(#bl2)" opacity="1.0"/>
<ellipse cx="104.00" cy="333.50" rx="3.5" ry="1.6" fill="#3a3fc8" filter="url(#bl2)" opacity="1.0"/>
<ellipse cx="111.00" cy="321.00" rx="1.5" ry="1.5" fill="#3a3fc8" filter="url(#bl2)" opacity="1.0"/>
<ellipse cx="95.00" cy="326.50" rx="1.6" ry="1.8" fill="#a0a0b0" filter="url(#bl2)" opacity="1.0"/>
<ellipse cx="114.50" cy="325.00" rx="1.4" ry="2.4" fill="#3fb8e8" filter="url(#bl2)" opacity="1.0"/>
<polygon points="89.50,345.00 93.00,336.50 103.00,333.00 113.00,334.50 118.50,339.00 118.50,364.00 116.00,373.00 110.00,379.50 99.00,379.50 93.00,373.00 89.50,362.00" fill="#3a3fc8" filter="url(#bl2)"/>
<polygon points="91.00,349.00 94.00,339.00 103.00,335.50 112.00,337.00 116.50,342.00 116.50,362.00 113.00,370.00 106.00,377.00 100.00,377.00 95.00,371.00 91.50,362.00" fill="#3fb8e8" filter="url(#bl2)"/>
<ellipse cx="101.00" cy="347.50" rx="9.5" ry="11.0" fill="#8cc43c" filter="url(#bl2)" opacity="1.0"/>
<ellipse cx="92.50" cy="357.50" rx="2.6" ry="4.8" fill="#8cc43c" filter="url(#bl2)" opacity="1.0"/>
<ellipse cx="114.00" cy="358.80" rx="2.8" ry="3.6" fill="#8cc43c" filter="url(#bl2)" opacity="1.0"/>
<ellipse cx="105.30" cy="350.60" rx="3.2" ry="3.4" fill="#f2e41c" filter="url(#bl2)" opacity="1.0"/>
<ellipse cx="105.30" cy="350.60" rx="1.7" ry="1.8" fill="#e0201c" filter="url(#bl2)" opacity="1.0"/>
<ellipse cx="108.00" cy="366.00" rx="3.5" ry="3" fill="#3f5fe0" filter="url(#bl2)" opacity="1.0"/>
<ellipse cx="99.00" cy="372.00" rx="2.5" ry="2" fill="#3f5fe0" filter="url(#bl2)" opacity="1.0"/>
<ellipse cx="113.50" cy="350.00" rx="1.5" ry="3" fill="#3f5fe0" filter="url(#bl2)" opacity="1.0"/>
<ellipse cx="96.00" cy="364.00" rx="2" ry="2" fill="#3f5fe0" filter="url(#bl2)" opacity="1.0"/>
<ellipse cx="104.50" cy="376.00" rx="2.5" ry="2.5" fill="#7fd0f0" filter="url(#bl2)" opacity="1.0"/>
</g>
</g>
<g clip-path="url(#clip7)">
<rect x="122.3" y="303.0" width="28.00" height="76.00" fill="url(#stripes)"/>
<path d="M136.30,303.00 C137.98,303.00 139.10,306.80 139.66,310.60 C141.90,312.88 144.70,315.92 146.38,321.24 C148.90,327.32 149.46,337.20 149.18,348.60 C148.90,357.72 148.62,363.80 147.50,368.36 C146.38,371.40 144.70,372.92 143.58,373.68 L145.82,376.72 L147.50,379.76 L144.70,379.76 L140.78,375.20 L137.98,375.20 L137.42,379.76 L135.18,379.76 L134.62,375.20 L131.82,375.20 L127.90,379.76 L125.10,379.76 L126.78,376.72 L129.02,373.68 C127.90,372.92 126.22,371.40 125.10,368.36 C123.98,363.80 123.70,357.72 123.42,348.60 C123.14,337.20 123.70,327.32 126.22,321.24 C127.90,315.92 130.70,312.88 132.94,310.60 C133.50,306.80 134.62,303.00 136.30,303.00 Z" fill="url(#bodyW)" filter="url(#bl1)"/>
<ellipse cx="144.34" cy="317.51" rx="3.38" ry="2.52" fill="#fff" opacity="0.07" filter="url(#bl1)"/>
<ellipse cx="143.34" cy="323.47" rx="1.87" ry="2.37" fill="#fff" opacity="0.06" filter="url(#bl1)"/>
<ellipse cx="138.50" cy="316.35" rx="1.64" ry="1.93" fill="#000" opacity="0.04" filter="url(#bl1)"/>
<ellipse cx="131.77" cy="330.04" rx="3.21" ry="3.75" fill="#fff" opacity="0.06" filter="url(#bl1)"/>
<ellipse cx="142.94" cy="368.42" rx="3.26" ry="2.86" fill="#fff" opacity="0.08" filter="url(#bl1)"/>
<ellipse cx="130.29" cy="344.07" rx="1.69" ry="1.96" fill="#fff" opacity="0.05" filter="url(#bl1)"/>
<ellipse cx="139.62" cy="360.71" rx="1.56" ry="1.51" fill="#fff" opacity="0.07" filter="url(#bl1)"/>
<ellipse cx="138.90" cy="344.59" rx="1.75" ry="1.95" fill="#000" opacity="0.05" filter="url(#bl1)"/>
<ellipse cx="130.06" cy="348.57" rx="2.36" ry="2.87" fill="#000" opacity="0.07" filter="url(#bl1)"/>
<ellipse cx="140.40" cy="358.89" rx="3.21" ry="3.55" fill="#000" opacity="0.10" filter="url(#bl1)"/>
<ellipse cx="135.51" cy="368.66" rx="2.87" ry="3.62" fill="#fff" opacity="0.05" filter="url(#bl1)"/>
<ellipse cx="140.55" cy="365.68" rx="1.65" ry="3.16" fill="#fff" opacity="0.08" filter="url(#bl1)"/>
<ellipse cx="130.36" cy="355.68" rx="1.64" ry="1.61" fill="#fff" opacity="0.06" filter="url(#bl1)"/>
<ellipse cx="136.58" cy="323.29" rx="2.50" ry="3.18" fill="#fff" opacity="0.08" filter="url(#bl1)"/>
<g filter="url(#rough)">
<ellipse cx="139.50" cy="330.00" rx="3.5" ry="2.5" fill="#8a8a8a" filter="url(#bl1)" opacity="1.0"/>
<ellipse cx="148.30" cy="339.80" rx="1.4" ry="2.0" fill="#3a3fc8" filter="url(#bl2)" opacity="1.0"/>
<ellipse cx="148.30" cy="339.20" rx="0.9" ry="1.0" fill="#e0201c" filter="url(#bl2)" opacity="1.0"/>
</g>
</g>
<g clip-path="url(#clip8)">
<rect x="152.6" y="303.0" width="29.70" height="76.00" fill="url(#stripes)"/>
<path d="M167.45,303.00 C169.23,303.00 170.42,306.80 171.01,310.60 C173.39,312.88 176.36,315.92 178.14,321.24 C180.81,327.32 181.41,337.20 181.11,348.60 C180.81,357.72 180.52,363.80 179.33,368.36 C178.14,371.40 176.36,372.92 175.17,373.68 L177.55,376.72 L179.33,379.76 L176.36,379.76 L172.20,375.20 L169.23,375.20 L168.64,379.76 L166.26,379.76 L165.67,375.20 L162.70,375.20 L158.54,379.76 L155.57,379.76 L157.35,376.72 L159.73,373.68 C158.54,372.92 156.76,371.40 155.57,368.36 C154.38,363.80 154.08,357.72 153.79,348.60 C153.49,337.20 154.08,327.32 156.76,321.24 C158.54,315.92 161.51,312.88 163.89,310.60 C164.48,306.80 165.67,303.00 167.45,303.00 Z" fill="url(#bodyW)" filter="url(#bl1)"/>
<ellipse cx="162.53" cy="367.56" rx="3.19" ry="3.29" fill="#fff" opacity="0.04" filter="url(#bl1)"/>
<ellipse cx="170.66" cy="315.00" rx="3.11" ry="2.84" fill="#fff" opacity="0.06" filter="url(#bl1)"/>
<ellipse cx="172.11" cy="355.93" rx="3.44" ry="3.73" fill="#000" opacity="0.08" filter="url(#bl1)"/>
<ellipse cx="174.71" cy="320.17" rx="2.11" ry="1.61" fill="#fff" opacity="0.09" filter="url(#bl1)"/>
<ellipse cx="171.87" cy="346.52" rx="1.68" ry="2.95" fill="#fff" opacity="0.06" filter="url(#bl1)"/>
<ellipse cx="173.60" cy="351.35" rx="1.76" ry="2.51" fill="#000" opacity="0.06" filter="url(#bl1)"/>
<ellipse cx="172.41" cy="340.19" rx="2.53" ry="3.97" fill="#fff" opacity="0.05" filter="url(#bl1)"/>
<ellipse cx="165.66" cy="331.85" rx="1.61" ry="3.10" fill="#fff" opacity="0.09" filter="url(#bl1)"/>
<ellipse cx="169.26" cy="348.89" rx="3.20" ry="2.13" fill="#fff" opacity="0.08" filter="url(#bl1)"/>
<ellipse cx="161.15" cy="322.70" rx="2.44" ry="2.82" fill="#fff" opacity="0.05" filter="url(#bl1)"/>
<ellipse cx="166.33" cy="350.08" rx="3.06" ry="2.43" fill="#fff" opacity="0.07" filter="url(#bl1)"/>
<ellipse cx="159.01" cy="366.17" rx="1.74" ry="2.94" fill="#000" opacity="0.06" filter="url(#bl1)"/>
<ellipse cx="172.97" cy="318.68" rx="2.34" ry="1.89" fill="#fff" opacity="0.04" filter="url(#bl1)"/>
<ellipse cx="171.56" cy="367.30" rx="2.97" ry="3.53" fill="#fff" opacity="0.06" filter="url(#bl1)"/>
<g filter="url(#rough)">
<ellipse cx="163.10" cy="342.80" rx="6.2" ry="7.9" fill="#3a3fc8" filter="url(#bl2)" opacity="1.0"/>
<ellipse cx="162.95" cy="343.10" rx="5.084" ry="6.478" fill="#3fb8e8" filter="url(#bl2)" opacity="1.0"/>
<ellipse cx="162.80" cy="343.40" rx="3.9680000000000004" ry="5.056" fill="#8cc43c" filter="url(#bl2)" opacity="1.0"/>
<ellipse cx="162.65" cy="343.70" rx="1.8599999999999999" ry="2.37" fill="#f2e41c" filter="url(#bl2)" opacity="1.0"/>
<ellipse cx="162.50" cy="344.00" rx="0.9920000000000001" ry="1.264" fill="#e0201c" filter="url(#bl2)" opacity="1.0"/>
</g>
</g>
<polygon points="111.30,268.30 120.59,268.04 117.49,266.47 129.63,260.70 128.77,258.90 116.63,264.66 117.37,261.27" fill="#e01a22"/>
<polygon points="170.90,261.00 180.19,260.74 177.09,259.17 189.63,253.20 188.77,251.40 176.23,257.36 176.97,253.96" fill="#e01a22"/>
<polygon points="110.00,347.50 119.29,347.26 116.19,345.68 128.43,339.90 127.57,338.10 115.34,343.87 116.08,340.48" fill="#e01a22"/>
<polygon points="170.30,343.50 179.59,343.40 176.52,341.78 189.01,336.11 188.19,334.29 175.69,339.96 176.49,336.57" fill="#e01a22"/>
<text x="259.80" y="203.80" font-size="13.6" text-anchor="start" font-weight="bold" font-style="normal" fill="#000" stroke="#000" stroke-width="0.2" >D</text>
<line x1="307.00" y1="216.00" x2="307.00" y2="345.30" stroke="#111" stroke-width="1.5" />
<line x1="306.30" y1="344.60" x2="430.60" y2="344.60" stroke="#111" stroke-width="1.5" />
<line x1="303.50" y1="344.60" x2="307.00" y2="344.60" stroke="#111" stroke-width="1.2" />
<text transform="translate(300.80,347.70) scale(1.0,1)" font-size="9.0" text-anchor="end" fill="#111" stroke="#111" stroke-width="0.12">1x10<tspan font-size="6.2" dy="-3.4">2</tspan></text>
<line x1="303.50" y1="302.55" x2="307.00" y2="302.55" stroke="#111" stroke-width="1.2" />
<text transform="translate(300.80,305.65) scale(1.0,1)" font-size="9.0" text-anchor="end" fill="#111" stroke="#111" stroke-width="0.12">1x10<tspan font-size="6.2" dy="-3.4">3</tspan></text>
<line x1="303.50" y1="260.50" x2="307.00" y2="260.50" stroke="#111" stroke-width="1.2" />
<text transform="translate(300.80,263.60) scale(1.0,1)" font-size="9.0" text-anchor="end" fill="#111" stroke="#111" stroke-width="0.12">1x10<tspan font-size="6.2" dy="-3.4">4</tspan></text>
<line x1="303.50" y1="218.45" x2="307.00" y2="218.45" stroke="#111" stroke-width="1.2" />
<text transform="translate(300.80,221.55) scale(1.0,1)" font-size="9.0" text-anchor="end" fill="#111" stroke="#111" stroke-width="0.12">1x10<tspan font-size="6.2" dy="-3.4">5</tspan></text>
<line x1="305.20" y1="331.94" x2="307.00" y2="331.94" stroke="#111" stroke-width="1.0" />
<line x1="305.20" y1="324.54" x2="307.00" y2="324.54" stroke="#111" stroke-width="1.0" />
<line x1="305.20" y1="319.28" x2="307.00" y2="319.28" stroke="#111" stroke-width="1.0" />
<line x1="305.20" y1="315.21" x2="307.00" y2="315.21" stroke="#111" stroke-width="1.0" />
<line x1="305.20" y1="311.88" x2="307.00" y2="311.88" stroke="#111" stroke-width="1.0" />
<line x1="305.20" y1="309.06" x2="307.00" y2="309.06" stroke="#111" stroke-width="1.0" />
<line x1="305.20" y1="306.63" x2="307.00" y2="306.63" stroke="#111" stroke-width="1.0" />
<line x1="305.20" y1="304.47" x2="307.00" y2="304.47" stroke="#111" stroke-width="1.0" />
<line x1="305.20" y1="289.89" x2="307.00" y2="289.89" stroke="#111" stroke-width="1.0" />
<line x1="305.20" y1="282.49" x2="307.00" y2="282.49" stroke="#111" stroke-width="1.0" />
<line x1="305.20" y1="277.23" x2="307.00" y2="277.23" stroke="#111" stroke-width="1.0" />
<line x1="305.20" y1="273.16" x2="307.00" y2="273.16" stroke="#111" stroke-width="1.0" />
<line x1="305.20" y1="269.83" x2="307.00" y2="269.83" stroke="#111" stroke-width="1.0" />
<line x1="305.20" y1="267.01" x2="307.00" y2="267.01" stroke="#111" stroke-width="1.0" />
<line x1="305.20" y1="264.58" x2="307.00" y2="264.58" stroke="#111" stroke-width="1.0" />
<line x1="305.20" y1="262.42" x2="307.00" y2="262.42" stroke="#111" stroke-width="1.0" />
<line x1="305.20" y1="247.84" x2="307.00" y2="247.84" stroke="#111" stroke-width="1.0" />
<line x1="305.20" y1="240.44" x2="307.00" y2="240.44" stroke="#111" stroke-width="1.0" />
<line x1="305.20" y1="235.18" x2="307.00" y2="235.18" stroke="#111" stroke-width="1.0" />
<line x1="305.20" y1="231.11" x2="307.00" y2="231.11" stroke="#111" stroke-width="1.0" />
<line x1="305.20" y1="227.78" x2="307.00" y2="227.78" stroke="#111" stroke-width="1.0" />
<line x1="305.20" y1="224.96" x2="307.00" y2="224.96" stroke="#111" stroke-width="1.0" />
<line x1="305.20" y1="222.53" x2="307.00" y2="222.53" stroke="#111" stroke-width="1.0" />
<line x1="305.20" y1="220.37" x2="307.00" y2="220.37" stroke="#111" stroke-width="1.0" />
<text x="0.00" y="0.00" font-size="10.5" text-anchor="middle" textLength="85" lengthAdjust="spacingAndGlyphs" fill="#111" stroke="#111" stroke-width="0.3" transform="translate(271.0,280.2) rotate(-90)">Id-spes. CD4<tspan font-size="6.5" dy="-3.5">+</tspan><tspan dy="3.5"> cells in BM</tspan></text>
<line x1="327.50" y1="344.60" x2="327.50" y2="347.90" stroke="#111" stroke-width="1.2" />
<line x1="368.50" y1="344.60" x2="368.50" y2="347.90" stroke="#111" stroke-width="1.2" />
<line x1="409.50" y1="344.60" x2="409.50" y2="347.90" stroke="#111" stroke-width="1.2" />
<line x1="327.30" y1="295.40" x2="327.30" y2="305.80" stroke="#56a42c" stroke-width="1.1" />
<line x1="320.10" y1="295.40" x2="334.50" y2="295.40" stroke="#56a42c" stroke-width="1.1" />
<line x1="320.10" y1="305.80" x2="334.50" y2="305.80" stroke="#56a42c" stroke-width="1.1" />
<circle cx="327.30" cy="292.50" r="1.5" fill="#56a42c"/>
<circle cx="324.70" cy="297.10" r="1.5" fill="#56a42c"/>
<circle cx="329.80" cy="297.10" r="1.5" fill="#56a42c"/>
<circle cx="317.50" cy="302.10" r="1.5" fill="#56a42c"/>
<circle cx="322.50" cy="303.50" r="1.5" fill="#56a42c"/>
<circle cx="327.30" cy="305.50" r="1.5" fill="#56a42c"/>
<circle cx="332.40" cy="304.00" r="1.5" fill="#56a42c"/>
<circle cx="337.50" cy="302.10" r="1.5" fill="#56a42c"/>
<line x1="314.10" y1="300.20" x2="341.00" y2="300.20" stroke="#111" stroke-width="1.6" />
<line x1="368.40" y1="233.50" x2="368.40" y2="258.90" stroke="#1d3f86" stroke-width="1.1" />
<line x1="361.10" y1="233.50" x2="375.70" y2="233.50" stroke="#1d3f86" stroke-width="1.1" />
<line x1="361.10" y1="258.90" x2="375.70" y2="258.90" stroke="#1d3f86" stroke-width="1.1" />
<path d="M368.40,228.55 L369.90,231.25 L366.90,231.25 Z" fill="#1d3f86"/>
<path d="M368.40,238.55 L369.90,241.25 L366.90,241.25 Z" fill="#1d3f86"/>
<path d="M363.30,248.45 L364.80,251.15 L361.80,251.15 Z" fill="#1d3f86"/>
<path d="M368.40,251.65 L369.90,254.35 L366.90,254.35 Z" fill="#1d3f86"/>
<path d="M373.40,250.15 L374.90,252.85 L371.90,252.85 Z" fill="#1d3f86"/>
<line x1="355.10" y1="242.10" x2="381.80" y2="242.10" stroke="#111" stroke-width="1.6" />
<line x1="409.40" y1="227.70" x2="409.40" y2="254.20" stroke="#b0052c" stroke-width="1.1" />
<line x1="402.10" y1="227.70" x2="416.70" y2="227.70" stroke="#b0052c" stroke-width="1.1" />
<line x1="402.10" y1="254.20" x2="416.70" y2="254.20" stroke="#b0052c" stroke-width="1.1" />
<rect x="408.05" y="221.75" width="2.7" height="2.7" fill="#b0052c"/>
<rect x="408.05" y="234.65" width="2.7" height="2.7" fill="#b0052c"/>
<rect x="408.05" y="240.15" width="2.7" height="2.7" fill="#b0052c"/>
<rect x="410.65" y="243.25" width="2.7" height="2.7" fill="#b0052c"/>
<rect x="405.25" y="247.25" width="2.7" height="2.7" fill="#b0052c"/>
<line x1="396.20" y1="236.20" x2="423.10" y2="236.20" stroke="#111" stroke-width="1.6" />
<text font-size="8.8" fill="#111" stroke="#111" stroke-width="0.12" text-anchor="end" transform="translate(331.20,357.80) rotate(-45)">Non-</text>
<text font-size="8.8" fill="#111" stroke="#111" stroke-width="0.12" text-anchor="end" transform="translate(338.41,365.01) rotate(-45)">challenged</text>
<text font-size="8.8" fill="#111" stroke="#111" stroke-width="0.12" text-anchor="end" transform="translate(372.20,357.80) rotate(-45)">d+12</text>
<text font-size="8.8" fill="#111" stroke="#111" stroke-width="0.12" text-anchor="end" transform="translate(379.41,365.01) rotate(-45)">(+ FTY720)</text>
<text font-size="8.8" fill="#111" stroke="#111" stroke-width="0.12" text-anchor="end" transform="translate(413.20,357.80) rotate(-45)">d+12</text>
<text font-size="8.8" fill="#111" stroke="#111" stroke-width="0.12" text-anchor="end" transform="translate(420.41,365.01) rotate(-45)">(+ Nacl)</text>
<text x="7.90" y="425.90" font-size="13.6" text-anchor="start" font-weight="bold" font-style="normal" fill="#000" stroke="#000" stroke-width="0.2" >E</text>
<line x1="52.30" y1="437.80" x2="52.30" y2="560.30" stroke="#111" stroke-width="1.5" />
<line x1="51.60" y1="559.60" x2="193.00" y2="559.60" stroke="#111" stroke-width="1.5" />
<line x1="48.80" y1="441.30" x2="52.30" y2="441.30" stroke="#111" stroke-width="1.2" />
<line x1="48.80" y1="470.50" x2="52.30" y2="470.50" stroke="#111" stroke-width="1.2" />
<line x1="48.80" y1="499.70" x2="52.30" y2="499.70" stroke="#111" stroke-width="1.2" />
<line x1="48.80" y1="528.90" x2="52.30" y2="528.90" stroke="#111" stroke-width="1.2" />
<line x1="50.30" y1="520.11" x2="52.30" y2="520.11" stroke="#111" stroke-width="1.0" />
<line x1="50.30" y1="514.97" x2="52.30" y2="514.97" stroke="#111" stroke-width="1.0" />
<line x1="50.30" y1="511.32" x2="52.30" y2="511.32" stroke="#111" stroke-width="1.0" />
<line x1="50.30" y1="508.49" x2="52.30" y2="508.49" stroke="#111" stroke-width="1.0" />
<line x1="50.30" y1="506.18" x2="52.30" y2="506.18" stroke="#111" stroke-width="1.0" />
<line x1="50.30" y1="504.22" x2="52.30" y2="504.22" stroke="#111" stroke-width="1.0" />
<line x1="50.30" y1="502.53" x2="52.30" y2="502.53" stroke="#111" stroke-width="1.0" />
<line x1="50.30" y1="501.04" x2="52.30" y2="501.04" stroke="#111" stroke-width="1.0" />
<line x1="50.30" y1="490.91" x2="52.30" y2="490.91" stroke="#111" stroke-width="1.0" />
<line x1="50.30" y1="485.77" x2="52.30" y2="485.77" stroke="#111" stroke-width="1.0" />
<line x1="50.30" y1="482.12" x2="52.30" y2="482.12" stroke="#111" stroke-width="1.0" />
<line x1="50.30" y1="479.29" x2="52.30" y2="479.29" stroke="#111" stroke-width="1.0" />
<line x1="50.30" y1="476.98" x2="52.30" y2="476.98" stroke="#111" stroke-width="1.0" />
<line x1="50.30" y1="475.02" x2="52.30" y2="475.02" stroke="#111" stroke-width="1.0" />
<line x1="50.30" y1="473.33" x2="52.30" y2="473.33" stroke="#111" stroke-width="1.0" />
<line x1="50.30" y1="471.84" x2="52.30" y2="471.84" stroke="#111" stroke-width="1.0" />
<line x1="50.30" y1="461.71" x2="52.30" y2="461.71" stroke="#111" stroke-width="1.0" />
<line x1="50.30" y1="456.57" x2="52.30" y2="456.57" stroke="#111" stroke-width="1.0" />
<line x1="50.30" y1="452.92" x2="52.30" y2="452.92" stroke="#111" stroke-width="1.0" />
<line x1="50.30" y1="450.09" x2="52.30" y2="450.09" stroke="#111" stroke-width="1.0" />
<line x1="50.30" y1="447.78" x2="52.30" y2="447.78" stroke="#111" stroke-width="1.0" />
<line x1="50.30" y1="445.82" x2="52.30" y2="445.82" stroke="#111" stroke-width="1.0" />
<line x1="50.30" y1="444.13" x2="52.30" y2="444.13" stroke="#111" stroke-width="1.0" />
<line x1="50.30" y1="442.64" x2="52.30" y2="442.64" stroke="#111" stroke-width="1.0" />
<text transform="translate(45.80,444.30) scale(1.0,1)" font-size="9.0" text-anchor="end" fill="#111" stroke="#111" stroke-width="0.12">10<tspan font-size="6.5" dy="-2.6">5</tspan></text>
<text transform="translate(45.80,473.50) scale(1.0,1)" font-size="9.0" text-anchor="end" fill="#111" stroke="#111" stroke-width="0.12">10<tspan font-size="6.5" dy="-2.6">4</tspan></text>
<text transform="translate(45.80,502.70) scale(1.0,1)" font-size="9.0" text-anchor="end" fill="#111" stroke="#111" stroke-width="0.12">10<tspan font-size="6.5" dy="-2.6">3</tspan></text>
<text transform="translate(45.40,531.90) scale(0.9,1)" font-size="9.0" text-anchor="end" font-weight="normal" font-style="normal" fill="#111" stroke="#111" stroke-width="0.12" >L.L.D.</text>
<line x1="53.30" y1="530.20" x2="192.50" y2="530.20" stroke="#c8c8c8" stroke-width="1.2" stroke-dasharray="3.6 2.4"/>
<line x1="75.40" y1="559.60" x2="75.40" y2="562.90" stroke="#111" stroke-width="1.2" />
<text x="75.40" y="574.70" font-size="9.2" text-anchor="middle" font-weight="normal" font-style="normal" fill="#111" stroke="#111" stroke-width="0.12" >d+1</text>
<line x1="122.80" y1="559.60" x2="122.80" y2="562.90" stroke="#111" stroke-width="1.2" />
<text x="122.80" y="574.70" font-size="9.2" text-anchor="middle" font-weight="normal" font-style="normal" fill="#111" stroke="#111" stroke-width="0.12" >d+13</text>
<line x1="170.10" y1="559.60" x2="170.10" y2="562.90" stroke="#111" stroke-width="1.2" />
<text x="170.10" y="574.70" font-size="9.2" text-anchor="middle" font-weight="normal" font-style="normal" fill="#111" stroke="#111" stroke-width="0.12" >d+24</text>
<text x="122.70" y="590.00" font-size="10.5" text-anchor="middle" textLength="88.4" lengthAdjust="spacingAndGlyphs" fill="#111" stroke="#111" stroke-width="0.3" >Time after challenge (days)</text>
<text x="0.00" y="0.00" font-size="10.5" text-anchor="middle" textLength="47.2" lengthAdjust="spacingAndGlyphs" fill="#111" stroke="#111" stroke-width="0.3" transform="translate(17.6,499.3) rotate(-90)">M315 (ng/mL)</text>
<path d="M64.30,532.32 L67.90,532.32 L66.10,536.28 Z" fill="#56a42c"/>
<circle cx="66.10" cy="539.70" r="2.1" fill="#1d3f86"/>
<path d="M66.10,542.82 L68.00,545.10 L66.10,547.38 L64.20,545.10 Z" fill="#b0052c"/>
<circle cx="114.60" cy="534.40" r="2.0" fill="#1d3f86"/>
<path d="M114.60,537.52 L116.50,539.80 L114.60,542.08 L112.70,539.80 Z" fill="#b0052c"/>
<circle cx="161.20" cy="534.40" r="2.0" fill="#1d3f86"/>
<path d="M161.20,537.52 L163.10,539.80 L161.20,542.08 L159.30,539.80 Z" fill="#b0052c"/>
<path d="M68.95,532.32 L72.55,532.32 L70.75,536.28 Z" fill="#56a42c"/>
<circle cx="70.75" cy="539.70" r="2.1" fill="#1d3f86"/>
<path d="M70.75,542.82 L72.65,545.10 L70.75,547.38 L68.85,545.10 Z" fill="#b0052c"/>
<circle cx="119.25" cy="534.40" r="2.0" fill="#1d3f86"/>
<path d="M119.25,537.52 L121.15,539.80 L119.25,542.08 L117.35,539.80 Z" fill="#b0052c"/>
<circle cx="165.85" cy="534.40" r="2.0" fill="#1d3f86"/>
<path d="M165.85,537.52 L167.75,539.80 L165.85,542.08 L163.95,539.80 Z" fill="#b0052c"/>
<path d="M73.60,532.32 L77.20,532.32 L75.40,536.28 Z" fill="#56a42c"/>
<circle cx="75.40" cy="539.70" r="2.1" fill="#1d3f86"/>
<path d="M75.40,542.82 L77.30,545.10 L75.40,547.38 L73.50,545.10 Z" fill="#b0052c"/>
<circle cx="123.90" cy="534.40" r="2.0" fill="#1d3f86"/>
<path d="M123.90,537.52 L125.80,539.80 L123.90,542.08 L122.00,539.80 Z" fill="#b0052c"/>
<circle cx="170.50" cy="534.40" r="2.0" fill="#1d3f86"/>
<path d="M170.50,537.52 L172.40,539.80 L170.50,542.08 L168.60,539.80 Z" fill="#b0052c"/>
<path d="M78.25,532.32 L81.85,532.32 L80.05,536.28 Z" fill="#56a42c"/>
<circle cx="80.05" cy="539.70" r="2.1" fill="#1d3f86"/>
<path d="M80.05,542.82 L81.95,545.10 L80.05,547.38 L78.15,545.10 Z" fill="#b0052c"/>
<circle cx="128.55" cy="534.40" r="2.0" fill="#1d3f86"/>
<path d="M128.55,537.52 L130.45,539.80 L128.55,542.08 L126.65,539.80 Z" fill="#b0052c"/>
<circle cx="175.15" cy="534.40" r="2.0" fill="#1d3f86"/>
<path d="M175.15,537.52 L177.05,539.80 L175.15,542.08 L173.25,539.80 Z" fill="#b0052c"/>
<path d="M82.90,532.32 L86.50,532.32 L84.70,536.28 Z" fill="#56a42c"/>
<circle cx="84.70" cy="539.70" r="2.1" fill="#1d3f86"/>
<path d="M84.70,542.82 L86.60,545.10 L84.70,547.38 L82.80,545.10 Z" fill="#b0052c"/>
<circle cx="133.20" cy="534.40" r="2.0" fill="#1d3f86"/>
<path d="M133.20,537.52 L135.10,539.80 L133.20,542.08 L131.30,539.80 Z" fill="#b0052c"/>
<circle cx="179.80" cy="534.40" r="2.0" fill="#1d3f86"/>
<path d="M179.80,537.52 L181.70,539.80 L179.80,542.08 L177.90,539.80 Z" fill="#b0052c"/>
<line x1="116.50" y1="489.50" x2="129.00" y2="489.50" stroke="#56a42c" stroke-width="0.9" />
<path d="M114.80,487.70 L118.80,487.70 L116.80,492.10 Z" fill="#56a42c"/>
<path d="M120.50,488.80 L124.50,488.80 L122.50,493.20 Z" fill="#56a42c"/>
<path d="M123.60,490.60 L127.60,490.60 L125.60,495.00 Z" fill="#56a42c"/>
<path d="M126.50,486.00 L130.50,486.00 L128.50,490.40 Z" fill="#56a42c"/>
<path d="M117.90,497.00 L121.90,497.00 L119.90,501.40 Z" fill="#56a42c"/>
<line x1="107.80" y1="492.40" x2="137.70" y2="492.40" stroke="#111" stroke-width="1.6" />
<line x1="164.00" y1="454.00" x2="178.00" y2="454.00" stroke="#56a42c" stroke-width="0.9" />
<path d="M156.60,453.50 L160.60,453.50 L158.60,457.90 Z" fill="#56a42c"/>
<path d="M162.30,453.20 L166.30,453.20 L164.30,457.60 Z" fill="#56a42c"/>
<path d="M168.00,455.80 L172.00,455.80 L170.00,460.20 Z" fill="#56a42c"/>
<path d="M174.00,453.20 L178.00,453.20 L176.00,457.60 Z" fill="#56a42c"/>
<path d="M179.30,449.40 L183.30,449.40 L181.30,453.80 Z" fill="#56a42c"/>
<line x1="154.80" y1="456.00" x2="185.10" y2="456.00" stroke="#111" stroke-width="1.6" />
<path d="M174.40,473.73 L176.90,476.60 L174.40,479.48 L171.90,476.60 Z" fill="#b0052c"/>
<path d="M171.90,485.85 L176.90,485.85 L174.40,491.35 Z" fill="#56a42c"/>
<circle cx="174.40" cy="501.60" r="2.7" fill="#1d3f86"/>
<text transform="translate(181.30,479.00) scale(0.86,1)" font-size="9.3" text-anchor="start" font-weight="normal" font-style="normal" fill="#111" stroke="#111" stroke-width="0.15" >Control (TCR Tg)</text>
<text transform="translate(181.30,491.70) scale(0.86,1)" font-size="9.3" text-anchor="start" font-weight="normal" font-style="normal" fill="#111" stroke="#111" stroke-width="0.15" >FTY20 (WT)</text>
<text transform="translate(181.30,504.60) scale(0.86,1)" font-size="9.3" text-anchor="start" font-weight="normal" font-style="normal" fill="#111" stroke="#111" stroke-width="0.15" >FTY20 (TCR Tg)</text>
<text x="260.10" y="425.80" font-size="13.6" text-anchor="start" font-weight="bold" font-style="normal" fill="#000" stroke="#000" stroke-width="0.2" >F</text>
<line x1="306.70" y1="446.50" x2="306.70" y2="560.40" stroke="#111" stroke-width="1.5" />
<line x1="306.00" y1="559.70" x2="456.50" y2="559.70" stroke="#111" stroke-width="1.5" />
<line x1="303.20" y1="559.70" x2="306.70" y2="559.70" stroke="#111" stroke-width="1.2" />
<text transform="translate(300.80,562.80) scale(1.0,1)" font-size="9.0" text-anchor="end" fill="#111" stroke="#111" stroke-width="0.12">1x10<tspan font-size="6.2" dy="-3.4">5</tspan></text>
<line x1="303.20" y1="537.68" x2="306.70" y2="537.68" stroke="#111" stroke-width="1.2" />
<text transform="translate(300.80,540.78) scale(1.0,1)" font-size="9.0" text-anchor="end" fill="#111" stroke="#111" stroke-width="0.12">1x10<tspan font-size="6.2" dy="-3.4">6</tspan></text>
<line x1="303.20" y1="515.66" x2="306.70" y2="515.66" stroke="#111" stroke-width="1.2" />
<text transform="translate(300.80,518.76) scale(1.0,1)" font-size="9.0" text-anchor="end" fill="#111" stroke="#111" stroke-width="0.12">1x10<tspan font-size="6.2" dy="-3.4">7</tspan></text>
<line x1="303.20" y1="493.64" x2="306.70" y2="493.64" stroke="#111" stroke-width="1.2" />
<text transform="translate(300.80,496.74) scale(1.0,1)" font-size="9.0" text-anchor="end" fill="#111" stroke="#111" stroke-width="0.12">1x10<tspan font-size="6.2" dy="-3.4">8</tspan></text>
<line x1="303.20" y1="471.62" x2="306.70" y2="471.62" stroke="#111" stroke-width="1.2" />
<text transform="translate(300.80,474.72) scale(1.0,1)" font-size="9.0" text-anchor="end" fill="#111" stroke="#111" stroke-width="0.12">1x10<tspan font-size="6.2" dy="-3.4">9</tspan></text>
<line x1="303.20" y1="449.60" x2="306.70" y2="449.60" stroke="#111" stroke-width="1.2" />
<text transform="translate(300.80,452.70) scale(1.0,1)" font-size="9.0" text-anchor="end" fill="#111" stroke="#111" stroke-width="0.12">1x10<tspan font-size="6.2" dy="-3.4">10</tspan></text>
<line x1="304.90" y1="553.07" x2="306.70" y2="553.07" stroke="#111" stroke-width="0.9" />
<line x1="304.90" y1="549.19" x2="306.70" y2="549.19" stroke="#111" stroke-width="0.9" />
<line x1="304.90" y1="546.44" x2="306.70" y2="546.44" stroke="#111" stroke-width="0.9" />
<line x1="304.90" y1="544.31" x2="306.70" y2="544.31" stroke="#111" stroke-width="0.9" />
<line x1="304.90" y1="542.57" x2="306.70" y2="542.57" stroke="#111" stroke-width="0.9" />
<line x1="304.90" y1="541.09" x2="306.70" y2="541.09" stroke="#111" stroke-width="0.9" />
<line x1="304.90" y1="539.81" x2="306.70" y2="539.81" stroke="#111" stroke-width="0.9" />
<line x1="304.90" y1="538.69" x2="306.70" y2="538.69" stroke="#111" stroke-width="0.9" />
<line x1="304.90" y1="531.05" x2="306.70" y2="531.05" stroke="#111" stroke-width="0.9" />
<line x1="304.90" y1="527.17" x2="306.70" y2="527.17" stroke="#111" stroke-width="0.9" />
<line x1="304.90" y1="524.42" x2="306.70" y2="524.42" stroke="#111" stroke-width="0.9" />
<line x1="304.90" y1="522.29" x2="306.70" y2="522.29" stroke="#111" stroke-width="0.9" />
<line x1="304.90" y1="520.55" x2="306.70" y2="520.55" stroke="#111" stroke-width="0.9" />
<line x1="304.90" y1="519.07" x2="306.70" y2="519.07" stroke="#111" stroke-width="0.9" />
<line x1="304.90" y1="517.79" x2="306.70" y2="517.79" stroke="#111" stroke-width="0.9" />
<line x1="304.90" y1="516.67" x2="306.70" y2="516.67" stroke="#111" stroke-width="0.9" />
<line x1="304.90" y1="509.03" x2="306.70" y2="509.03" stroke="#111" stroke-width="0.9" />
<line x1="304.90" y1="505.15" x2="306.70" y2="505.15" stroke="#111" stroke-width="0.9" />
<line x1="304.90" y1="502.40" x2="306.70" y2="502.40" stroke="#111" stroke-width="0.9" />
<line x1="304.90" y1="500.27" x2="306.70" y2="500.27" stroke="#111" stroke-width="0.9" />
<line x1="304.90" y1="498.53" x2="306.70" y2="498.53" stroke="#111" stroke-width="0.9" />
<line x1="304.90" y1="497.05" x2="306.70" y2="497.05" stroke="#111" stroke-width="0.9" />
<line x1="304.90" y1="495.77" x2="306.70" y2="495.77" stroke="#111" stroke-width="0.9" />
<line x1="304.90" y1="494.65" x2="306.70" y2="494.65" stroke="#111" stroke-width="0.9" />
<line x1="304.90" y1="487.01" x2="306.70" y2="487.01" stroke="#111" stroke-width="0.9" />
<line x1="304.90" y1="483.13" x2="306.70" y2="483.13" stroke="#111" stroke-width="0.9" />
<line x1="304.90" y1="480.38" x2="306.70" y2="480.38" stroke="#111" stroke-width="0.9" />
<line x1="304.90" y1="478.25" x2="306.70" y2="478.25" stroke="#111" stroke-width="0.9" />
<line x1="304.90" y1="476.51" x2="306.70" y2="476.51" stroke="#111" stroke-width="0.9" />
<line x1="304.90" y1="475.03" x2="306.70" y2="475.03" stroke="#111" stroke-width="0.9" />
<line x1="304.90" y1="473.75" x2="306.70" y2="473.75" stroke="#111" stroke-width="0.9" />
<line x1="304.90" y1="472.63" x2="306.70" y2="472.63" stroke="#111" stroke-width="0.9" />
<line x1="304.90" y1="464.99" x2="306.70" y2="464.99" stroke="#111" stroke-width="0.9" />
<line x1="304.90" y1="461.11" x2="306.70" y2="461.11" stroke="#111" stroke-width="0.9" />
<line x1="304.90" y1="458.36" x2="306.70" y2="458.36" stroke="#111" stroke-width="0.9" />
<line x1="304.90" y1="456.23" x2="306.70" y2="456.23" stroke="#111" stroke-width="0.9" />
<line x1="304.90" y1="454.49" x2="306.70" y2="454.49" stroke="#111" stroke-width="0.9" />
<line x1="304.90" y1="453.01" x2="306.70" y2="453.01" stroke="#111" stroke-width="0.9" />
<line x1="304.90" y1="451.73" x2="306.70" y2="451.73" stroke="#111" stroke-width="0.9" />
<line x1="304.90" y1="450.61" x2="306.70" y2="450.61" stroke="#111" stroke-width="0.9" />
<text x="0.00" y="0.00" font-size="10.0" text-anchor="middle" textLength="47.5" lengthAdjust="spacingAndGlyphs" fill="#111" stroke="#111" stroke-width="0.3" transform="translate(267.2,503.2) rotate(-90)">Total flux (p/s)</text>
<line x1="319.30" y1="559.70" x2="319.30" y2="563.00" stroke="#111" stroke-width="1.2" />
<text font-size="8.8" fill="#111" stroke="#111" stroke-width="0.12" text-anchor="end" transform="translate(322.30,572.30) rotate(-45)">d+0</text>
<line x1="344.20" y1="559.70" x2="344.20" y2="563.00" stroke="#111" stroke-width="1.2" />
<text font-size="8.8" fill="#111" stroke="#111" stroke-width="0.12" text-anchor="end" transform="translate(347.20,572.30) rotate(-45)">d+3</text>
<line x1="369.10" y1="559.70" x2="369.10" y2="563.00" stroke="#111" stroke-width="1.2" />
<text font-size="8.8" fill="#111" stroke="#111" stroke-width="0.12" text-anchor="end" transform="translate(372.10,572.30) rotate(-45)">d+6</text>
<line x1="394.00" y1="559.70" x2="394.00" y2="563.00" stroke="#111" stroke-width="1.2" />
<text font-size="8.8" fill="#111" stroke="#111" stroke-width="0.12" text-anchor="end" transform="translate(397.00,572.30) rotate(-45)">d+12</text>
<line x1="418.90" y1="559.70" x2="418.90" y2="563.00" stroke="#111" stroke-width="1.2" />
<text font-size="8.8" fill="#111" stroke="#111" stroke-width="0.12" text-anchor="end" transform="translate(421.90,572.30) rotate(-45)">d+19</text>
<line x1="443.80" y1="559.70" x2="443.80" y2="563.00" stroke="#111" stroke-width="1.2" />
<text font-size="8.8" fill="#111" stroke="#111" stroke-width="0.12" text-anchor="end" transform="translate(446.80,572.30) rotate(-45)">d+24</text>
<text x="381.40" y="602.10" font-size="10.5" text-anchor="middle" textLength="88.9" lengthAdjust="spacingAndGlyphs" fill="#111" stroke="#111" stroke-width="0.3" >Time after challenge (days)</text>
<polyline points="319.3,524.0 344.2,535.8 369.1,521.0 394.0,486.2 418.9,468.4 443.8,462.2" fill="none" stroke="#56a42c" stroke-width="1.4"/>
<polyline points="319.3,524.0 344.2,536.8 369.1,521.8 394.0,514.8 418.9,547.8 443.8,545.3" fill="none" stroke="#b0052c" stroke-width="1.4"/>
<polyline points="319.3,524.0 344.2,546.3 369.1,551.9 394.0,549.0 418.9,544.7 443.8,540.7" fill="none" stroke="#1d3f86" stroke-width="1.4"/>
<line x1="369.10" y1="518.00" x2="369.10" y2="524.00" stroke="#56a42c" stroke-width="1.1" />
<line x1="366.85" y1="518.00" x2="371.35" y2="518.00" stroke="#56a42c" stroke-width="1.1" />
<line x1="366.85" y1="524.00" x2="371.35" y2="524.00" stroke="#56a42c" stroke-width="1.1" />
<line x1="418.90" y1="465.40" x2="418.90" y2="470.80" stroke="#56a42c" stroke-width="1.1" />
<line x1="416.65" y1="465.40" x2="421.15" y2="465.40" stroke="#56a42c" stroke-width="1.1" />
<line x1="416.65" y1="470.80" x2="421.15" y2="470.80" stroke="#56a42c" stroke-width="1.1" />
<line x1="443.80" y1="460.60" x2="443.80" y2="463.80" stroke="#56a42c" stroke-width="1.0" />
<line x1="442.00" y1="460.60" x2="445.60" y2="460.60" stroke="#56a42c" stroke-width="1.0" />
<line x1="442.00" y1="463.80" x2="445.60" y2="463.80" stroke="#56a42c" stroke-width="1.0" />
<line x1="344.20" y1="533.00" x2="344.20" y2="542.00" stroke="#b0052c" stroke-width="1.1" />
<line x1="341.95" y1="533.00" x2="346.45" y2="533.00" stroke="#b0052c" stroke-width="1.1" />
<line x1="341.95" y1="542.00" x2="346.45" y2="542.00" stroke="#b0052c" stroke-width="1.1" />
<line x1="369.10" y1="516.30" x2="369.10" y2="546.20" stroke="#b0052c" stroke-width="1.1" />
<line x1="366.85" y1="516.30" x2="371.35" y2="516.30" stroke="#b0052c" stroke-width="1.1" />
<line x1="366.85" y1="546.20" x2="371.35" y2="546.20" stroke="#b0052c" stroke-width="1.1" />
<line x1="394.00" y1="509.20" x2="394.00" y2="531.20" stroke="#b0052c" stroke-width="1.1" />
<line x1="391.75" y1="509.20" x2="396.25" y2="509.20" stroke="#b0052c" stroke-width="1.1" />
<line x1="391.75" y1="531.20" x2="396.25" y2="531.20" stroke="#b0052c" stroke-width="1.1" />
<line x1="418.90" y1="540.50" x2="418.90" y2="549.70" stroke="#1d3f86" stroke-width="1.1" />
<line x1="416.65" y1="540.50" x2="421.15" y2="540.50" stroke="#1d3f86" stroke-width="1.1" />
<line x1="416.65" y1="549.70" x2="421.15" y2="549.70" stroke="#1d3f86" stroke-width="1.1" />
<line x1="443.80" y1="535.90" x2="443.80" y2="548.10" stroke="#1d3f86" stroke-width="1.1" />
<line x1="441.55" y1="535.90" x2="446.05" y2="535.90" stroke="#1d3f86" stroke-width="1.1" />
<line x1="441.55" y1="548.10" x2="446.05" y2="548.10" stroke="#1d3f86" stroke-width="1.1" />
<circle cx="319.30" cy="524.00" r="2.1" fill="#56a42c"/>
<circle cx="344.20" cy="535.80" r="2.1" fill="#56a42c"/>
<circle cx="369.10" cy="521.00" r="2.1" fill="#56a42c"/>
<circle cx="394.00" cy="486.20" r="2.1" fill="#56a42c"/>
<circle cx="418.90" cy="468.40" r="2.1" fill="#56a42c"/>
<circle cx="443.80" cy="462.20" r="2.1" fill="#56a42c"/>
<rect x="317.20" y="521.90" width="4.2" height="4.2" fill="#b0052c"/>
<rect x="342.10" y="534.70" width="4.2" height="4.2" fill="#b0052c"/>
<rect x="367.00" y="519.70" width="4.2" height="4.2" fill="#b0052c"/>
<rect x="391.90" y="512.70" width="4.2" height="4.2" fill="#b0052c"/>
<rect x="416.80" y="545.70" width="4.2" height="4.2" fill="#b0052c"/>
<rect x="441.70" y="543.20" width="4.2" height="4.2" fill="#b0052c"/>
<path d="M319.30,522.02 L321.50,525.98 L317.10,525.98 Z" fill="#1d3f86"/>
<path d="M344.20,544.32 L346.40,548.28 L342.00,548.28 Z" fill="#1d3f86"/>
<path d="M369.10,549.92 L371.30,553.88 L366.90,553.88 Z" fill="#1d3f86"/>
<path d="M394.00,547.02 L396.20,550.98 L391.80,550.98 Z" fill="#1d3f86"/>
<path d="M418.90,542.72 L421.10,546.68 L416.70,546.68 Z" fill="#1d3f86"/>
<path d="M443.80,538.72 L446.00,542.68 L441.60,542.68 Z" fill="#1d3f86"/>
<line x1="435.80" y1="476.10" x2="448.50" y2="476.10" stroke="#b0052c" stroke-width="1.6" />
<rect x="440.00" y="473.90" width="4.4" height="4.4" fill="#b0052c"/>
<line x1="435.80" y1="488.80" x2="448.50" y2="488.80" stroke="#56a42c" stroke-width="1.6" />
<circle cx="442.20" cy="488.80" r="2.5" fill="#56a42c"/>
<line x1="435.80" y1="501.20" x2="448.50" y2="501.20" stroke="#1d3f86" stroke-width="1.6" />
<path d="M442.20,498.65 L444.70,503.15 L439.70,503.15 Z" fill="#1d3f86"/>
<text transform="translate(451.90,479.20) scale(0.86,1)" font-size="9.3" text-anchor="start" font-weight="normal" font-style="normal" fill="#111" stroke="#111" stroke-width="0.15" >Control (TCR Tg)</text>
<text transform="translate(451.90,491.90) scale(0.86,1)" font-size="9.3" text-anchor="start" font-weight="normal" font-style="normal" fill="#111" stroke="#111" stroke-width="0.15" >FTY20 (WT)</text>
<text transform="translate(451.90,504.30) scale(0.86,1)" font-size="9.3" text-anchor="start" font-weight="normal" font-style="normal" fill="#111" stroke="#111" stroke-width="0.15" >FTY20 (TCR Tg)</text>
<rect x="0.6" y="0.6" width="518.8" height="609.8" fill="none" stroke="#000" stroke-width="1.3"/>
</svg>
</body></html>
